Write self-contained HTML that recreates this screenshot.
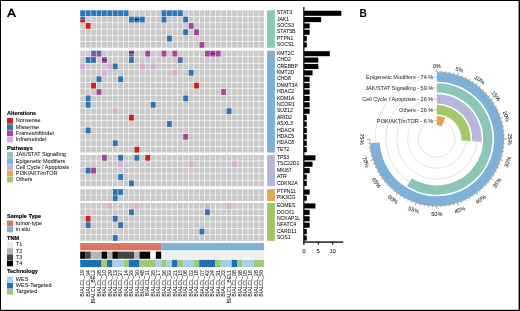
<!DOCTYPE html>
<html><head><meta charset="utf-8"><style>
html,body{margin:0;padding:0;background:#fff;}
.wrap{position:relative;width:520px;height:311px;overflow:hidden;}
svg{display:block;will-change:transform;}
</style></head><body><div class="wrap">
<svg width="520" height="311" viewBox="0 0 520 311" style="font-family:'Liberation Sans',sans-serif">
<rect x="0" y="0" width="520" height="311" fill="#fff"/>
<path d="M6.9,16.9 L10.7,8.4 L12.3,8.4 L16.1,16.9 L14.3,16.9 L13.4,14.9 L9.6,14.9 L8.7,16.9 Z M10.2,13.4 L12.8,13.4 L11.5,10.4 Z" fill="#000" fill-rule="evenodd"/>
<rect x="267.1" y="10.35" width="7.8" height="37.4" fill="#8dc7b8"/>
<rect x="267.1" y="50.75" width="7.8" height="101.75" fill="#7dafd9"/>
<rect x="267.1" y="154.9" width="7.8" height="31.35" fill="#b8b4dc"/>
<rect x="267.1" y="189.1" width="7.8" height="11.95" fill="#e5a456"/>
<rect x="267.1" y="203" width="7.8" height="37.85" fill="#9fc766"/>
<rect x="80.3" y="10.35" width="4.8" height="5.75" fill="#cacaca"/>
<rect x="85.72" y="10.35" width="4.8" height="5.75" fill="#cacaca"/>
<rect x="91.14" y="10.35" width="4.8" height="5.75" fill="#cacaca"/>
<rect x="96.56" y="10.35" width="4.8" height="5.75" fill="#cacaca"/>
<rect x="101.98" y="10.35" width="4.8" height="5.75" fill="#cacaca"/>
<rect x="107.4" y="10.35" width="4.8" height="5.75" fill="#cacaca"/>
<rect x="112.82" y="10.35" width="4.8" height="5.75" fill="#cacaca"/>
<rect x="118.24" y="10.35" width="4.8" height="5.75" fill="#cacaca"/>
<rect x="123.66" y="10.35" width="4.8" height="5.75" fill="#cacaca"/>
<rect x="129.08" y="10.35" width="4.8" height="5.75" fill="#cacaca"/>
<rect x="134.5" y="10.35" width="4.8" height="5.75" fill="#cacaca"/>
<rect x="139.92" y="10.35" width="4.8" height="5.75" fill="#cacaca"/>
<rect x="145.34" y="10.35" width="4.8" height="5.75" fill="#cacaca"/>
<rect x="150.76" y="10.35" width="4.8" height="5.75" fill="#cacaca"/>
<rect x="156.18" y="10.35" width="4.8" height="5.75" fill="#cacaca"/>
<rect x="161.6" y="10.35" width="4.8" height="5.75" fill="#cacaca"/>
<rect x="167.02" y="10.35" width="4.8" height="5.75" fill="#cacaca"/>
<rect x="172.44" y="10.35" width="4.8" height="5.75" fill="#cacaca"/>
<rect x="177.86" y="10.35" width="4.8" height="5.75" fill="#cacaca"/>
<rect x="183.28" y="10.35" width="4.8" height="5.75" fill="#cacaca"/>
<rect x="188.7" y="10.35" width="4.8" height="5.75" fill="#cacaca"/>
<rect x="194.12" y="10.35" width="4.8" height="5.75" fill="#cacaca"/>
<rect x="199.54" y="10.35" width="4.8" height="5.75" fill="#cacaca"/>
<rect x="204.96" y="10.35" width="4.8" height="5.75" fill="#cacaca"/>
<rect x="210.38" y="10.35" width="4.8" height="5.75" fill="#cacaca"/>
<rect x="215.8" y="10.35" width="4.8" height="5.75" fill="#cacaca"/>
<rect x="221.22" y="10.35" width="4.8" height="5.75" fill="#cacaca"/>
<rect x="226.64" y="10.35" width="4.8" height="5.75" fill="#cacaca"/>
<rect x="232.06" y="10.35" width="4.8" height="5.75" fill="#cacaca"/>
<rect x="237.48" y="10.35" width="4.8" height="5.75" fill="#cacaca"/>
<rect x="242.9" y="10.35" width="4.8" height="5.75" fill="#cacaca"/>
<rect x="248.32" y="10.35" width="4.8" height="5.75" fill="#cacaca"/>
<rect x="253.74" y="10.35" width="4.8" height="5.75" fill="#cacaca"/>
<rect x="259.16" y="10.35" width="4.8" height="5.75" fill="#cacaca"/>
<rect x="80.3" y="16.68" width="4.8" height="5.75" fill="#cacaca"/>
<rect x="85.72" y="16.68" width="4.8" height="5.75" fill="#cacaca"/>
<rect x="91.14" y="16.68" width="4.8" height="5.75" fill="#cacaca"/>
<rect x="96.56" y="16.68" width="4.8" height="5.75" fill="#cacaca"/>
<rect x="101.98" y="16.68" width="4.8" height="5.75" fill="#cacaca"/>
<rect x="107.4" y="16.68" width="4.8" height="5.75" fill="#cacaca"/>
<rect x="112.82" y="16.68" width="4.8" height="5.75" fill="#cacaca"/>
<rect x="118.24" y="16.68" width="4.8" height="5.75" fill="#cacaca"/>
<rect x="123.66" y="16.68" width="4.8" height="5.75" fill="#cacaca"/>
<rect x="129.08" y="16.68" width="4.8" height="5.75" fill="#cacaca"/>
<rect x="134.5" y="16.68" width="4.8" height="5.75" fill="#cacaca"/>
<rect x="139.92" y="16.68" width="4.8" height="5.75" fill="#cacaca"/>
<rect x="145.34" y="16.68" width="4.8" height="5.75" fill="#cacaca"/>
<rect x="150.76" y="16.68" width="4.8" height="5.75" fill="#cacaca"/>
<rect x="156.18" y="16.68" width="4.8" height="5.75" fill="#cacaca"/>
<rect x="161.6" y="16.68" width="4.8" height="5.75" fill="#cacaca"/>
<rect x="167.02" y="16.68" width="4.8" height="5.75" fill="#cacaca"/>
<rect x="172.44" y="16.68" width="4.8" height="5.75" fill="#cacaca"/>
<rect x="177.86" y="16.68" width="4.8" height="5.75" fill="#cacaca"/>
<rect x="183.28" y="16.68" width="4.8" height="5.75" fill="#cacaca"/>
<rect x="188.7" y="16.68" width="4.8" height="5.75" fill="#cacaca"/>
<rect x="194.12" y="16.68" width="4.8" height="5.75" fill="#cacaca"/>
<rect x="199.54" y="16.68" width="4.8" height="5.75" fill="#cacaca"/>
<rect x="204.96" y="16.68" width="4.8" height="5.75" fill="#cacaca"/>
<rect x="210.38" y="16.68" width="4.8" height="5.75" fill="#cacaca"/>
<rect x="215.8" y="16.68" width="4.8" height="5.75" fill="#cacaca"/>
<rect x="221.22" y="16.68" width="4.8" height="5.75" fill="#cacaca"/>
<rect x="226.64" y="16.68" width="4.8" height="5.75" fill="#cacaca"/>
<rect x="232.06" y="16.68" width="4.8" height="5.75" fill="#cacaca"/>
<rect x="237.48" y="16.68" width="4.8" height="5.75" fill="#cacaca"/>
<rect x="242.9" y="16.68" width="4.8" height="5.75" fill="#cacaca"/>
<rect x="248.32" y="16.68" width="4.8" height="5.75" fill="#cacaca"/>
<rect x="253.74" y="16.68" width="4.8" height="5.75" fill="#cacaca"/>
<rect x="259.16" y="16.68" width="4.8" height="5.75" fill="#cacaca"/>
<rect x="80.3" y="23.01" width="4.8" height="5.75" fill="#cacaca"/>
<rect x="85.72" y="23.01" width="4.8" height="5.75" fill="#cacaca"/>
<rect x="91.14" y="23.01" width="4.8" height="5.75" fill="#cacaca"/>
<rect x="96.56" y="23.01" width="4.8" height="5.75" fill="#cacaca"/>
<rect x="101.98" y="23.01" width="4.8" height="5.75" fill="#cacaca"/>
<rect x="107.4" y="23.01" width="4.8" height="5.75" fill="#cacaca"/>
<rect x="112.82" y="23.01" width="4.8" height="5.75" fill="#cacaca"/>
<rect x="118.24" y="23.01" width="4.8" height="5.75" fill="#cacaca"/>
<rect x="123.66" y="23.01" width="4.8" height="5.75" fill="#cacaca"/>
<rect x="129.08" y="23.01" width="4.8" height="5.75" fill="#cacaca"/>
<rect x="134.5" y="23.01" width="4.8" height="5.75" fill="#cacaca"/>
<rect x="139.92" y="23.01" width="4.8" height="5.75" fill="#cacaca"/>
<rect x="145.34" y="23.01" width="4.8" height="5.75" fill="#cacaca"/>
<rect x="150.76" y="23.01" width="4.8" height="5.75" fill="#cacaca"/>
<rect x="156.18" y="23.01" width="4.8" height="5.75" fill="#cacaca"/>
<rect x="161.6" y="23.01" width="4.8" height="5.75" fill="#cacaca"/>
<rect x="167.02" y="23.01" width="4.8" height="5.75" fill="#cacaca"/>
<rect x="172.44" y="23.01" width="4.8" height="5.75" fill="#cacaca"/>
<rect x="177.86" y="23.01" width="4.8" height="5.75" fill="#cacaca"/>
<rect x="183.28" y="23.01" width="4.8" height="5.75" fill="#cacaca"/>
<rect x="188.7" y="23.01" width="4.8" height="5.75" fill="#cacaca"/>
<rect x="194.12" y="23.01" width="4.8" height="5.75" fill="#cacaca"/>
<rect x="199.54" y="23.01" width="4.8" height="5.75" fill="#cacaca"/>
<rect x="204.96" y="23.01" width="4.8" height="5.75" fill="#cacaca"/>
<rect x="210.38" y="23.01" width="4.8" height="5.75" fill="#cacaca"/>
<rect x="215.8" y="23.01" width="4.8" height="5.75" fill="#cacaca"/>
<rect x="221.22" y="23.01" width="4.8" height="5.75" fill="#cacaca"/>
<rect x="226.64" y="23.01" width="4.8" height="5.75" fill="#cacaca"/>
<rect x="232.06" y="23.01" width="4.8" height="5.75" fill="#cacaca"/>
<rect x="237.48" y="23.01" width="4.8" height="5.75" fill="#cacaca"/>
<rect x="242.9" y="23.01" width="4.8" height="5.75" fill="#cacaca"/>
<rect x="248.32" y="23.01" width="4.8" height="5.75" fill="#cacaca"/>
<rect x="253.74" y="23.01" width="4.8" height="5.75" fill="#cacaca"/>
<rect x="259.16" y="23.01" width="4.8" height="5.75" fill="#cacaca"/>
<rect x="80.3" y="29.34" width="4.8" height="5.75" fill="#cacaca"/>
<rect x="85.72" y="29.34" width="4.8" height="5.75" fill="#cacaca"/>
<rect x="91.14" y="29.34" width="4.8" height="5.75" fill="#cacaca"/>
<rect x="96.56" y="29.34" width="4.8" height="5.75" fill="#cacaca"/>
<rect x="101.98" y="29.34" width="4.8" height="5.75" fill="#cacaca"/>
<rect x="107.4" y="29.34" width="4.8" height="5.75" fill="#cacaca"/>
<rect x="112.82" y="29.34" width="4.8" height="5.75" fill="#cacaca"/>
<rect x="118.24" y="29.34" width="4.8" height="5.75" fill="#cacaca"/>
<rect x="123.66" y="29.34" width="4.8" height="5.75" fill="#cacaca"/>
<rect x="129.08" y="29.34" width="4.8" height="5.75" fill="#cacaca"/>
<rect x="134.5" y="29.34" width="4.8" height="5.75" fill="#cacaca"/>
<rect x="139.92" y="29.34" width="4.8" height="5.75" fill="#cacaca"/>
<rect x="145.34" y="29.34" width="4.8" height="5.75" fill="#cacaca"/>
<rect x="150.76" y="29.34" width="4.8" height="5.75" fill="#cacaca"/>
<rect x="156.18" y="29.34" width="4.8" height="5.75" fill="#cacaca"/>
<rect x="161.6" y="29.34" width="4.8" height="5.75" fill="#cacaca"/>
<rect x="167.02" y="29.34" width="4.8" height="5.75" fill="#cacaca"/>
<rect x="172.44" y="29.34" width="4.8" height="5.75" fill="#cacaca"/>
<rect x="177.86" y="29.34" width="4.8" height="5.75" fill="#cacaca"/>
<rect x="183.28" y="29.34" width="4.8" height="5.75" fill="#cacaca"/>
<rect x="188.7" y="29.34" width="4.8" height="5.75" fill="#cacaca"/>
<rect x="194.12" y="29.34" width="4.8" height="5.75" fill="#cacaca"/>
<rect x="199.54" y="29.34" width="4.8" height="5.75" fill="#cacaca"/>
<rect x="204.96" y="29.34" width="4.8" height="5.75" fill="#cacaca"/>
<rect x="210.38" y="29.34" width="4.8" height="5.75" fill="#cacaca"/>
<rect x="215.8" y="29.34" width="4.8" height="5.75" fill="#cacaca"/>
<rect x="221.22" y="29.34" width="4.8" height="5.75" fill="#cacaca"/>
<rect x="226.64" y="29.34" width="4.8" height="5.75" fill="#cacaca"/>
<rect x="232.06" y="29.34" width="4.8" height="5.75" fill="#cacaca"/>
<rect x="237.48" y="29.34" width="4.8" height="5.75" fill="#cacaca"/>
<rect x="242.9" y="29.34" width="4.8" height="5.75" fill="#cacaca"/>
<rect x="248.32" y="29.34" width="4.8" height="5.75" fill="#cacaca"/>
<rect x="253.74" y="29.34" width="4.8" height="5.75" fill="#cacaca"/>
<rect x="259.16" y="29.34" width="4.8" height="5.75" fill="#cacaca"/>
<rect x="80.3" y="35.67" width="4.8" height="5.75" fill="#cacaca"/>
<rect x="85.72" y="35.67" width="4.8" height="5.75" fill="#cacaca"/>
<rect x="91.14" y="35.67" width="4.8" height="5.75" fill="#cacaca"/>
<rect x="96.56" y="35.67" width="4.8" height="5.75" fill="#cacaca"/>
<rect x="101.98" y="35.67" width="4.8" height="5.75" fill="#cacaca"/>
<rect x="107.4" y="35.67" width="4.8" height="5.75" fill="#cacaca"/>
<rect x="112.82" y="35.67" width="4.8" height="5.75" fill="#cacaca"/>
<rect x="118.24" y="35.67" width="4.8" height="5.75" fill="#cacaca"/>
<rect x="123.66" y="35.67" width="4.8" height="5.75" fill="#cacaca"/>
<rect x="129.08" y="35.67" width="4.8" height="5.75" fill="#cacaca"/>
<rect x="134.5" y="35.67" width="4.8" height="5.75" fill="#cacaca"/>
<rect x="139.92" y="35.67" width="4.8" height="5.75" fill="#cacaca"/>
<rect x="145.34" y="35.67" width="4.8" height="5.75" fill="#cacaca"/>
<rect x="150.76" y="35.67" width="4.8" height="5.75" fill="#cacaca"/>
<rect x="156.18" y="35.67" width="4.8" height="5.75" fill="#cacaca"/>
<rect x="161.6" y="35.67" width="4.8" height="5.75" fill="#cacaca"/>
<rect x="167.02" y="35.67" width="4.8" height="5.75" fill="#cacaca"/>
<rect x="172.44" y="35.67" width="4.8" height="5.75" fill="#cacaca"/>
<rect x="177.86" y="35.67" width="4.8" height="5.75" fill="#cacaca"/>
<rect x="183.28" y="35.67" width="4.8" height="5.75" fill="#cacaca"/>
<rect x="188.7" y="35.67" width="4.8" height="5.75" fill="#cacaca"/>
<rect x="194.12" y="35.67" width="4.8" height="5.75" fill="#cacaca"/>
<rect x="199.54" y="35.67" width="4.8" height="5.75" fill="#cacaca"/>
<rect x="204.96" y="35.67" width="4.8" height="5.75" fill="#cacaca"/>
<rect x="210.38" y="35.67" width="4.8" height="5.75" fill="#cacaca"/>
<rect x="215.8" y="35.67" width="4.8" height="5.75" fill="#cacaca"/>
<rect x="221.22" y="35.67" width="4.8" height="5.75" fill="#cacaca"/>
<rect x="226.64" y="35.67" width="4.8" height="5.75" fill="#cacaca"/>
<rect x="232.06" y="35.67" width="4.8" height="5.75" fill="#cacaca"/>
<rect x="237.48" y="35.67" width="4.8" height="5.75" fill="#cacaca"/>
<rect x="242.9" y="35.67" width="4.8" height="5.75" fill="#cacaca"/>
<rect x="248.32" y="35.67" width="4.8" height="5.75" fill="#cacaca"/>
<rect x="253.74" y="35.67" width="4.8" height="5.75" fill="#cacaca"/>
<rect x="259.16" y="35.67" width="4.8" height="5.75" fill="#cacaca"/>
<rect x="80.3" y="42" width="4.8" height="5.75" fill="#cacaca"/>
<rect x="85.72" y="42" width="4.8" height="5.75" fill="#cacaca"/>
<rect x="91.14" y="42" width="4.8" height="5.75" fill="#cacaca"/>
<rect x="96.56" y="42" width="4.8" height="5.75" fill="#cacaca"/>
<rect x="101.98" y="42" width="4.8" height="5.75" fill="#cacaca"/>
<rect x="107.4" y="42" width="4.8" height="5.75" fill="#cacaca"/>
<rect x="112.82" y="42" width="4.8" height="5.75" fill="#cacaca"/>
<rect x="118.24" y="42" width="4.8" height="5.75" fill="#cacaca"/>
<rect x="123.66" y="42" width="4.8" height="5.75" fill="#cacaca"/>
<rect x="129.08" y="42" width="4.8" height="5.75" fill="#cacaca"/>
<rect x="134.5" y="42" width="4.8" height="5.75" fill="#cacaca"/>
<rect x="139.92" y="42" width="4.8" height="5.75" fill="#cacaca"/>
<rect x="145.34" y="42" width="4.8" height="5.75" fill="#cacaca"/>
<rect x="150.76" y="42" width="4.8" height="5.75" fill="#cacaca"/>
<rect x="156.18" y="42" width="4.8" height="5.75" fill="#cacaca"/>
<rect x="161.6" y="42" width="4.8" height="5.75" fill="#cacaca"/>
<rect x="167.02" y="42" width="4.8" height="5.75" fill="#cacaca"/>
<rect x="172.44" y="42" width="4.8" height="5.75" fill="#cacaca"/>
<rect x="177.86" y="42" width="4.8" height="5.75" fill="#cacaca"/>
<rect x="183.28" y="42" width="4.8" height="5.75" fill="#cacaca"/>
<rect x="188.7" y="42" width="4.8" height="5.75" fill="#cacaca"/>
<rect x="194.12" y="42" width="4.8" height="5.75" fill="#cacaca"/>
<rect x="199.54" y="42" width="4.8" height="5.75" fill="#cacaca"/>
<rect x="204.96" y="42" width="4.8" height="5.75" fill="#cacaca"/>
<rect x="210.38" y="42" width="4.8" height="5.75" fill="#cacaca"/>
<rect x="215.8" y="42" width="4.8" height="5.75" fill="#cacaca"/>
<rect x="221.22" y="42" width="4.8" height="5.75" fill="#cacaca"/>
<rect x="226.64" y="42" width="4.8" height="5.75" fill="#cacaca"/>
<rect x="232.06" y="42" width="4.8" height="5.75" fill="#cacaca"/>
<rect x="237.48" y="42" width="4.8" height="5.75" fill="#cacaca"/>
<rect x="242.9" y="42" width="4.8" height="5.75" fill="#cacaca"/>
<rect x="248.32" y="42" width="4.8" height="5.75" fill="#cacaca"/>
<rect x="253.74" y="42" width="4.8" height="5.75" fill="#cacaca"/>
<rect x="259.16" y="42" width="4.8" height="5.75" fill="#cacaca"/>
<rect x="80.3" y="50.75" width="4.8" height="5.75" fill="#cacaca"/>
<rect x="85.72" y="50.75" width="4.8" height="5.75" fill="#cacaca"/>
<rect x="91.14" y="50.75" width="4.8" height="5.75" fill="#cacaca"/>
<rect x="96.56" y="50.75" width="4.8" height="5.75" fill="#cacaca"/>
<rect x="101.98" y="50.75" width="4.8" height="5.75" fill="#cacaca"/>
<rect x="107.4" y="50.75" width="4.8" height="5.75" fill="#cacaca"/>
<rect x="112.82" y="50.75" width="4.8" height="5.75" fill="#cacaca"/>
<rect x="118.24" y="50.75" width="4.8" height="5.75" fill="#cacaca"/>
<rect x="123.66" y="50.75" width="4.8" height="5.75" fill="#cacaca"/>
<rect x="129.08" y="50.75" width="4.8" height="5.75" fill="#cacaca"/>
<rect x="134.5" y="50.75" width="4.8" height="5.75" fill="#cacaca"/>
<rect x="139.92" y="50.75" width="4.8" height="5.75" fill="#cacaca"/>
<rect x="145.34" y="50.75" width="4.8" height="5.75" fill="#cacaca"/>
<rect x="150.76" y="50.75" width="4.8" height="5.75" fill="#cacaca"/>
<rect x="156.18" y="50.75" width="4.8" height="5.75" fill="#cacaca"/>
<rect x="161.6" y="50.75" width="4.8" height="5.75" fill="#cacaca"/>
<rect x="167.02" y="50.75" width="4.8" height="5.75" fill="#cacaca"/>
<rect x="172.44" y="50.75" width="4.8" height="5.75" fill="#cacaca"/>
<rect x="177.86" y="50.75" width="4.8" height="5.75" fill="#cacaca"/>
<rect x="183.28" y="50.75" width="4.8" height="5.75" fill="#cacaca"/>
<rect x="188.7" y="50.75" width="4.8" height="5.75" fill="#cacaca"/>
<rect x="194.12" y="50.75" width="4.8" height="5.75" fill="#cacaca"/>
<rect x="199.54" y="50.75" width="4.8" height="5.75" fill="#cacaca"/>
<rect x="204.96" y="50.75" width="4.8" height="5.75" fill="#cacaca"/>
<rect x="210.38" y="50.75" width="4.8" height="5.75" fill="#cacaca"/>
<rect x="215.8" y="50.75" width="4.8" height="5.75" fill="#cacaca"/>
<rect x="221.22" y="50.75" width="4.8" height="5.75" fill="#cacaca"/>
<rect x="226.64" y="50.75" width="4.8" height="5.75" fill="#cacaca"/>
<rect x="232.06" y="50.75" width="4.8" height="5.75" fill="#cacaca"/>
<rect x="237.48" y="50.75" width="4.8" height="5.75" fill="#cacaca"/>
<rect x="242.9" y="50.75" width="4.8" height="5.75" fill="#cacaca"/>
<rect x="248.32" y="50.75" width="4.8" height="5.75" fill="#cacaca"/>
<rect x="253.74" y="50.75" width="4.8" height="5.75" fill="#cacaca"/>
<rect x="259.16" y="50.75" width="4.8" height="5.75" fill="#cacaca"/>
<rect x="80.3" y="57.15" width="4.8" height="5.75" fill="#cacaca"/>
<rect x="85.72" y="57.15" width="4.8" height="5.75" fill="#cacaca"/>
<rect x="91.14" y="57.15" width="4.8" height="5.75" fill="#cacaca"/>
<rect x="96.56" y="57.15" width="4.8" height="5.75" fill="#cacaca"/>
<rect x="101.98" y="57.15" width="4.8" height="5.75" fill="#cacaca"/>
<rect x="107.4" y="57.15" width="4.8" height="5.75" fill="#cacaca"/>
<rect x="112.82" y="57.15" width="4.8" height="5.75" fill="#cacaca"/>
<rect x="118.24" y="57.15" width="4.8" height="5.75" fill="#cacaca"/>
<rect x="123.66" y="57.15" width="4.8" height="5.75" fill="#cacaca"/>
<rect x="129.08" y="57.15" width="4.8" height="5.75" fill="#cacaca"/>
<rect x="134.5" y="57.15" width="4.8" height="5.75" fill="#cacaca"/>
<rect x="139.92" y="57.15" width="4.8" height="5.75" fill="#cacaca"/>
<rect x="145.34" y="57.15" width="4.8" height="5.75" fill="#cacaca"/>
<rect x="150.76" y="57.15" width="4.8" height="5.75" fill="#cacaca"/>
<rect x="156.18" y="57.15" width="4.8" height="5.75" fill="#cacaca"/>
<rect x="161.6" y="57.15" width="4.8" height="5.75" fill="#cacaca"/>
<rect x="167.02" y="57.15" width="4.8" height="5.75" fill="#cacaca"/>
<rect x="172.44" y="57.15" width="4.8" height="5.75" fill="#cacaca"/>
<rect x="177.86" y="57.15" width="4.8" height="5.75" fill="#cacaca"/>
<rect x="183.28" y="57.15" width="4.8" height="5.75" fill="#cacaca"/>
<rect x="188.7" y="57.15" width="4.8" height="5.75" fill="#cacaca"/>
<rect x="194.12" y="57.15" width="4.8" height="5.75" fill="#cacaca"/>
<rect x="199.54" y="57.15" width="4.8" height="5.75" fill="#cacaca"/>
<rect x="204.96" y="57.15" width="4.8" height="5.75" fill="#cacaca"/>
<rect x="210.38" y="57.15" width="4.8" height="5.75" fill="#cacaca"/>
<rect x="215.8" y="57.15" width="4.8" height="5.75" fill="#cacaca"/>
<rect x="221.22" y="57.15" width="4.8" height="5.75" fill="#cacaca"/>
<rect x="226.64" y="57.15" width="4.8" height="5.75" fill="#cacaca"/>
<rect x="232.06" y="57.15" width="4.8" height="5.75" fill="#cacaca"/>
<rect x="237.48" y="57.15" width="4.8" height="5.75" fill="#cacaca"/>
<rect x="242.9" y="57.15" width="4.8" height="5.75" fill="#cacaca"/>
<rect x="248.32" y="57.15" width="4.8" height="5.75" fill="#cacaca"/>
<rect x="253.74" y="57.15" width="4.8" height="5.75" fill="#cacaca"/>
<rect x="259.16" y="57.15" width="4.8" height="5.75" fill="#cacaca"/>
<rect x="80.3" y="63.55" width="4.8" height="5.75" fill="#cacaca"/>
<rect x="85.72" y="63.55" width="4.8" height="5.75" fill="#cacaca"/>
<rect x="91.14" y="63.55" width="4.8" height="5.75" fill="#cacaca"/>
<rect x="96.56" y="63.55" width="4.8" height="5.75" fill="#cacaca"/>
<rect x="101.98" y="63.55" width="4.8" height="5.75" fill="#cacaca"/>
<rect x="107.4" y="63.55" width="4.8" height="5.75" fill="#cacaca"/>
<rect x="112.82" y="63.55" width="4.8" height="5.75" fill="#cacaca"/>
<rect x="118.24" y="63.55" width="4.8" height="5.75" fill="#cacaca"/>
<rect x="123.66" y="63.55" width="4.8" height="5.75" fill="#cacaca"/>
<rect x="129.08" y="63.55" width="4.8" height="5.75" fill="#cacaca"/>
<rect x="134.5" y="63.55" width="4.8" height="5.75" fill="#cacaca"/>
<rect x="139.92" y="63.55" width="4.8" height="5.75" fill="#cacaca"/>
<rect x="145.34" y="63.55" width="4.8" height="5.75" fill="#cacaca"/>
<rect x="150.76" y="63.55" width="4.8" height="5.75" fill="#cacaca"/>
<rect x="156.18" y="63.55" width="4.8" height="5.75" fill="#cacaca"/>
<rect x="161.6" y="63.55" width="4.8" height="5.75" fill="#cacaca"/>
<rect x="167.02" y="63.55" width="4.8" height="5.75" fill="#cacaca"/>
<rect x="172.44" y="63.55" width="4.8" height="5.75" fill="#cacaca"/>
<rect x="177.86" y="63.55" width="4.8" height="5.75" fill="#cacaca"/>
<rect x="183.28" y="63.55" width="4.8" height="5.75" fill="#cacaca"/>
<rect x="188.7" y="63.55" width="4.8" height="5.75" fill="#cacaca"/>
<rect x="194.12" y="63.55" width="4.8" height="5.75" fill="#cacaca"/>
<rect x="199.54" y="63.55" width="4.8" height="5.75" fill="#cacaca"/>
<rect x="204.96" y="63.55" width="4.8" height="5.75" fill="#cacaca"/>
<rect x="210.38" y="63.55" width="4.8" height="5.75" fill="#cacaca"/>
<rect x="215.8" y="63.55" width="4.8" height="5.75" fill="#cacaca"/>
<rect x="221.22" y="63.55" width="4.8" height="5.75" fill="#cacaca"/>
<rect x="226.64" y="63.55" width="4.8" height="5.75" fill="#cacaca"/>
<rect x="232.06" y="63.55" width="4.8" height="5.75" fill="#cacaca"/>
<rect x="237.48" y="63.55" width="4.8" height="5.75" fill="#cacaca"/>
<rect x="242.9" y="63.55" width="4.8" height="5.75" fill="#cacaca"/>
<rect x="248.32" y="63.55" width="4.8" height="5.75" fill="#cacaca"/>
<rect x="253.74" y="63.55" width="4.8" height="5.75" fill="#cacaca"/>
<rect x="259.16" y="63.55" width="4.8" height="5.75" fill="#cacaca"/>
<rect x="80.3" y="69.95" width="4.8" height="5.75" fill="#cacaca"/>
<rect x="85.72" y="69.95" width="4.8" height="5.75" fill="#cacaca"/>
<rect x="91.14" y="69.95" width="4.8" height="5.75" fill="#cacaca"/>
<rect x="96.56" y="69.95" width="4.8" height="5.75" fill="#cacaca"/>
<rect x="101.98" y="69.95" width="4.8" height="5.75" fill="#cacaca"/>
<rect x="107.4" y="69.95" width="4.8" height="5.75" fill="#cacaca"/>
<rect x="112.82" y="69.95" width="4.8" height="5.75" fill="#cacaca"/>
<rect x="118.24" y="69.95" width="4.8" height="5.75" fill="#cacaca"/>
<rect x="123.66" y="69.95" width="4.8" height="5.75" fill="#cacaca"/>
<rect x="129.08" y="69.95" width="4.8" height="5.75" fill="#cacaca"/>
<rect x="134.5" y="69.95" width="4.8" height="5.75" fill="#cacaca"/>
<rect x="139.92" y="69.95" width="4.8" height="5.75" fill="#cacaca"/>
<rect x="145.34" y="69.95" width="4.8" height="5.75" fill="#cacaca"/>
<rect x="150.76" y="69.95" width="4.8" height="5.75" fill="#cacaca"/>
<rect x="156.18" y="69.95" width="4.8" height="5.75" fill="#cacaca"/>
<rect x="161.6" y="69.95" width="4.8" height="5.75" fill="#cacaca"/>
<rect x="167.02" y="69.95" width="4.8" height="5.75" fill="#cacaca"/>
<rect x="172.44" y="69.95" width="4.8" height="5.75" fill="#cacaca"/>
<rect x="177.86" y="69.95" width="4.8" height="5.75" fill="#cacaca"/>
<rect x="183.28" y="69.95" width="4.8" height="5.75" fill="#cacaca"/>
<rect x="188.7" y="69.95" width="4.8" height="5.75" fill="#cacaca"/>
<rect x="194.12" y="69.95" width="4.8" height="5.75" fill="#cacaca"/>
<rect x="199.54" y="69.95" width="4.8" height="5.75" fill="#cacaca"/>
<rect x="204.96" y="69.95" width="4.8" height="5.75" fill="#cacaca"/>
<rect x="210.38" y="69.95" width="4.8" height="5.75" fill="#cacaca"/>
<rect x="215.8" y="69.95" width="4.8" height="5.75" fill="#cacaca"/>
<rect x="221.22" y="69.95" width="4.8" height="5.75" fill="#cacaca"/>
<rect x="226.64" y="69.95" width="4.8" height="5.75" fill="#cacaca"/>
<rect x="232.06" y="69.95" width="4.8" height="5.75" fill="#cacaca"/>
<rect x="237.48" y="69.95" width="4.8" height="5.75" fill="#cacaca"/>
<rect x="242.9" y="69.95" width="4.8" height="5.75" fill="#cacaca"/>
<rect x="248.32" y="69.95" width="4.8" height="5.75" fill="#cacaca"/>
<rect x="253.74" y="69.95" width="4.8" height="5.75" fill="#cacaca"/>
<rect x="259.16" y="69.95" width="4.8" height="5.75" fill="#cacaca"/>
<rect x="80.3" y="76.35" width="4.8" height="5.75" fill="#cacaca"/>
<rect x="85.72" y="76.35" width="4.8" height="5.75" fill="#cacaca"/>
<rect x="91.14" y="76.35" width="4.8" height="5.75" fill="#cacaca"/>
<rect x="96.56" y="76.35" width="4.8" height="5.75" fill="#cacaca"/>
<rect x="101.98" y="76.35" width="4.8" height="5.75" fill="#cacaca"/>
<rect x="107.4" y="76.35" width="4.8" height="5.75" fill="#cacaca"/>
<rect x="112.82" y="76.35" width="4.8" height="5.75" fill="#cacaca"/>
<rect x="118.24" y="76.35" width="4.8" height="5.75" fill="#cacaca"/>
<rect x="123.66" y="76.35" width="4.8" height="5.75" fill="#cacaca"/>
<rect x="129.08" y="76.35" width="4.8" height="5.75" fill="#cacaca"/>
<rect x="134.5" y="76.35" width="4.8" height="5.75" fill="#cacaca"/>
<rect x="139.92" y="76.35" width="4.8" height="5.75" fill="#cacaca"/>
<rect x="145.34" y="76.35" width="4.8" height="5.75" fill="#cacaca"/>
<rect x="150.76" y="76.35" width="4.8" height="5.75" fill="#cacaca"/>
<rect x="156.18" y="76.35" width="4.8" height="5.75" fill="#cacaca"/>
<rect x="161.6" y="76.35" width="4.8" height="5.75" fill="#cacaca"/>
<rect x="167.02" y="76.35" width="4.8" height="5.75" fill="#cacaca"/>
<rect x="172.44" y="76.35" width="4.8" height="5.75" fill="#cacaca"/>
<rect x="177.86" y="76.35" width="4.8" height="5.75" fill="#cacaca"/>
<rect x="183.28" y="76.35" width="4.8" height="5.75" fill="#cacaca"/>
<rect x="188.7" y="76.35" width="4.8" height="5.75" fill="#cacaca"/>
<rect x="194.12" y="76.35" width="4.8" height="5.75" fill="#cacaca"/>
<rect x="199.54" y="76.35" width="4.8" height="5.75" fill="#cacaca"/>
<rect x="204.96" y="76.35" width="4.8" height="5.75" fill="#cacaca"/>
<rect x="210.38" y="76.35" width="4.8" height="5.75" fill="#cacaca"/>
<rect x="215.8" y="76.35" width="4.8" height="5.75" fill="#cacaca"/>
<rect x="221.22" y="76.35" width="4.8" height="5.75" fill="#cacaca"/>
<rect x="226.64" y="76.35" width="4.8" height="5.75" fill="#cacaca"/>
<rect x="232.06" y="76.35" width="4.8" height="5.75" fill="#cacaca"/>
<rect x="237.48" y="76.35" width="4.8" height="5.75" fill="#cacaca"/>
<rect x="242.9" y="76.35" width="4.8" height="5.75" fill="#cacaca"/>
<rect x="248.32" y="76.35" width="4.8" height="5.75" fill="#cacaca"/>
<rect x="253.74" y="76.35" width="4.8" height="5.75" fill="#cacaca"/>
<rect x="259.16" y="76.35" width="4.8" height="5.75" fill="#cacaca"/>
<rect x="80.3" y="82.75" width="4.8" height="5.75" fill="#cacaca"/>
<rect x="85.72" y="82.75" width="4.8" height="5.75" fill="#cacaca"/>
<rect x="91.14" y="82.75" width="4.8" height="5.75" fill="#cacaca"/>
<rect x="96.56" y="82.75" width="4.8" height="5.75" fill="#cacaca"/>
<rect x="101.98" y="82.75" width="4.8" height="5.75" fill="#cacaca"/>
<rect x="107.4" y="82.75" width="4.8" height="5.75" fill="#cacaca"/>
<rect x="112.82" y="82.75" width="4.8" height="5.75" fill="#cacaca"/>
<rect x="118.24" y="82.75" width="4.8" height="5.75" fill="#cacaca"/>
<rect x="123.66" y="82.75" width="4.8" height="5.75" fill="#cacaca"/>
<rect x="129.08" y="82.75" width="4.8" height="5.75" fill="#cacaca"/>
<rect x="134.5" y="82.75" width="4.8" height="5.75" fill="#cacaca"/>
<rect x="139.92" y="82.75" width="4.8" height="5.75" fill="#cacaca"/>
<rect x="145.34" y="82.75" width="4.8" height="5.75" fill="#cacaca"/>
<rect x="150.76" y="82.75" width="4.8" height="5.75" fill="#cacaca"/>
<rect x="156.18" y="82.75" width="4.8" height="5.75" fill="#cacaca"/>
<rect x="161.6" y="82.75" width="4.8" height="5.75" fill="#cacaca"/>
<rect x="167.02" y="82.75" width="4.8" height="5.75" fill="#cacaca"/>
<rect x="172.44" y="82.75" width="4.8" height="5.75" fill="#cacaca"/>
<rect x="177.86" y="82.75" width="4.8" height="5.75" fill="#cacaca"/>
<rect x="183.28" y="82.75" width="4.8" height="5.75" fill="#cacaca"/>
<rect x="188.7" y="82.75" width="4.8" height="5.75" fill="#cacaca"/>
<rect x="194.12" y="82.75" width="4.8" height="5.75" fill="#cacaca"/>
<rect x="199.54" y="82.75" width="4.8" height="5.75" fill="#cacaca"/>
<rect x="204.96" y="82.75" width="4.8" height="5.75" fill="#cacaca"/>
<rect x="210.38" y="82.75" width="4.8" height="5.75" fill="#cacaca"/>
<rect x="215.8" y="82.75" width="4.8" height="5.75" fill="#cacaca"/>
<rect x="221.22" y="82.75" width="4.8" height="5.75" fill="#cacaca"/>
<rect x="226.64" y="82.75" width="4.8" height="5.75" fill="#cacaca"/>
<rect x="232.06" y="82.75" width="4.8" height="5.75" fill="#cacaca"/>
<rect x="237.48" y="82.75" width="4.8" height="5.75" fill="#cacaca"/>
<rect x="242.9" y="82.75" width="4.8" height="5.75" fill="#cacaca"/>
<rect x="248.32" y="82.75" width="4.8" height="5.75" fill="#cacaca"/>
<rect x="253.74" y="82.75" width="4.8" height="5.75" fill="#cacaca"/>
<rect x="259.16" y="82.75" width="4.8" height="5.75" fill="#cacaca"/>
<rect x="80.3" y="89.15" width="4.8" height="5.75" fill="#cacaca"/>
<rect x="85.72" y="89.15" width="4.8" height="5.75" fill="#cacaca"/>
<rect x="91.14" y="89.15" width="4.8" height="5.75" fill="#cacaca"/>
<rect x="96.56" y="89.15" width="4.8" height="5.75" fill="#cacaca"/>
<rect x="101.98" y="89.15" width="4.8" height="5.75" fill="#cacaca"/>
<rect x="107.4" y="89.15" width="4.8" height="5.75" fill="#cacaca"/>
<rect x="112.82" y="89.15" width="4.8" height="5.75" fill="#cacaca"/>
<rect x="118.24" y="89.15" width="4.8" height="5.75" fill="#cacaca"/>
<rect x="123.66" y="89.15" width="4.8" height="5.75" fill="#cacaca"/>
<rect x="129.08" y="89.15" width="4.8" height="5.75" fill="#cacaca"/>
<rect x="134.5" y="89.15" width="4.8" height="5.75" fill="#cacaca"/>
<rect x="139.92" y="89.15" width="4.8" height="5.75" fill="#cacaca"/>
<rect x="145.34" y="89.15" width="4.8" height="5.75" fill="#cacaca"/>
<rect x="150.76" y="89.15" width="4.8" height="5.75" fill="#cacaca"/>
<rect x="156.18" y="89.15" width="4.8" height="5.75" fill="#cacaca"/>
<rect x="161.6" y="89.15" width="4.8" height="5.75" fill="#cacaca"/>
<rect x="167.02" y="89.15" width="4.8" height="5.75" fill="#cacaca"/>
<rect x="172.44" y="89.15" width="4.8" height="5.75" fill="#cacaca"/>
<rect x="177.86" y="89.15" width="4.8" height="5.75" fill="#cacaca"/>
<rect x="183.28" y="89.15" width="4.8" height="5.75" fill="#cacaca"/>
<rect x="188.7" y="89.15" width="4.8" height="5.75" fill="#cacaca"/>
<rect x="194.12" y="89.15" width="4.8" height="5.75" fill="#cacaca"/>
<rect x="199.54" y="89.15" width="4.8" height="5.75" fill="#cacaca"/>
<rect x="204.96" y="89.15" width="4.8" height="5.75" fill="#cacaca"/>
<rect x="210.38" y="89.15" width="4.8" height="5.75" fill="#cacaca"/>
<rect x="215.8" y="89.15" width="4.8" height="5.75" fill="#cacaca"/>
<rect x="221.22" y="89.15" width="4.8" height="5.75" fill="#cacaca"/>
<rect x="226.64" y="89.15" width="4.8" height="5.75" fill="#cacaca"/>
<rect x="232.06" y="89.15" width="4.8" height="5.75" fill="#cacaca"/>
<rect x="237.48" y="89.15" width="4.8" height="5.75" fill="#cacaca"/>
<rect x="242.9" y="89.15" width="4.8" height="5.75" fill="#cacaca"/>
<rect x="248.32" y="89.15" width="4.8" height="5.75" fill="#cacaca"/>
<rect x="253.74" y="89.15" width="4.8" height="5.75" fill="#cacaca"/>
<rect x="259.16" y="89.15" width="4.8" height="5.75" fill="#cacaca"/>
<rect x="80.3" y="95.55" width="4.8" height="5.75" fill="#cacaca"/>
<rect x="85.72" y="95.55" width="4.8" height="5.75" fill="#cacaca"/>
<rect x="91.14" y="95.55" width="4.8" height="5.75" fill="#cacaca"/>
<rect x="96.56" y="95.55" width="4.8" height="5.75" fill="#cacaca"/>
<rect x="101.98" y="95.55" width="4.8" height="5.75" fill="#cacaca"/>
<rect x="107.4" y="95.55" width="4.8" height="5.75" fill="#cacaca"/>
<rect x="112.82" y="95.55" width="4.8" height="5.75" fill="#cacaca"/>
<rect x="118.24" y="95.55" width="4.8" height="5.75" fill="#cacaca"/>
<rect x="123.66" y="95.55" width="4.8" height="5.75" fill="#cacaca"/>
<rect x="129.08" y="95.55" width="4.8" height="5.75" fill="#cacaca"/>
<rect x="134.5" y="95.55" width="4.8" height="5.75" fill="#cacaca"/>
<rect x="139.92" y="95.55" width="4.8" height="5.75" fill="#cacaca"/>
<rect x="145.34" y="95.55" width="4.8" height="5.75" fill="#cacaca"/>
<rect x="150.76" y="95.55" width="4.8" height="5.75" fill="#cacaca"/>
<rect x="156.18" y="95.55" width="4.8" height="5.75" fill="#cacaca"/>
<rect x="161.6" y="95.55" width="4.8" height="5.75" fill="#cacaca"/>
<rect x="167.02" y="95.55" width="4.8" height="5.75" fill="#cacaca"/>
<rect x="172.44" y="95.55" width="4.8" height="5.75" fill="#cacaca"/>
<rect x="177.86" y="95.55" width="4.8" height="5.75" fill="#cacaca"/>
<rect x="183.28" y="95.55" width="4.8" height="5.75" fill="#cacaca"/>
<rect x="188.7" y="95.55" width="4.8" height="5.75" fill="#cacaca"/>
<rect x="194.12" y="95.55" width="4.8" height="5.75" fill="#cacaca"/>
<rect x="199.54" y="95.55" width="4.8" height="5.75" fill="#cacaca"/>
<rect x="204.96" y="95.55" width="4.8" height="5.75" fill="#cacaca"/>
<rect x="210.38" y="95.55" width="4.8" height="5.75" fill="#cacaca"/>
<rect x="215.8" y="95.55" width="4.8" height="5.75" fill="#cacaca"/>
<rect x="221.22" y="95.55" width="4.8" height="5.75" fill="#cacaca"/>
<rect x="226.64" y="95.55" width="4.8" height="5.75" fill="#cacaca"/>
<rect x="232.06" y="95.55" width="4.8" height="5.75" fill="#cacaca"/>
<rect x="237.48" y="95.55" width="4.8" height="5.75" fill="#cacaca"/>
<rect x="242.9" y="95.55" width="4.8" height="5.75" fill="#cacaca"/>
<rect x="248.32" y="95.55" width="4.8" height="5.75" fill="#cacaca"/>
<rect x="253.74" y="95.55" width="4.8" height="5.75" fill="#cacaca"/>
<rect x="259.16" y="95.55" width="4.8" height="5.75" fill="#cacaca"/>
<rect x="80.3" y="101.95" width="4.8" height="5.75" fill="#cacaca"/>
<rect x="85.72" y="101.95" width="4.8" height="5.75" fill="#cacaca"/>
<rect x="91.14" y="101.95" width="4.8" height="5.75" fill="#cacaca"/>
<rect x="96.56" y="101.95" width="4.8" height="5.75" fill="#cacaca"/>
<rect x="101.98" y="101.95" width="4.8" height="5.75" fill="#cacaca"/>
<rect x="107.4" y="101.95" width="4.8" height="5.75" fill="#cacaca"/>
<rect x="112.82" y="101.95" width="4.8" height="5.75" fill="#cacaca"/>
<rect x="118.24" y="101.95" width="4.8" height="5.75" fill="#cacaca"/>
<rect x="123.66" y="101.95" width="4.8" height="5.75" fill="#cacaca"/>
<rect x="129.08" y="101.95" width="4.8" height="5.75" fill="#cacaca"/>
<rect x="134.5" y="101.95" width="4.8" height="5.75" fill="#cacaca"/>
<rect x="139.92" y="101.95" width="4.8" height="5.75" fill="#cacaca"/>
<rect x="145.34" y="101.95" width="4.8" height="5.75" fill="#cacaca"/>
<rect x="150.76" y="101.95" width="4.8" height="5.75" fill="#cacaca"/>
<rect x="156.18" y="101.95" width="4.8" height="5.75" fill="#cacaca"/>
<rect x="161.6" y="101.95" width="4.8" height="5.75" fill="#cacaca"/>
<rect x="167.02" y="101.95" width="4.8" height="5.75" fill="#cacaca"/>
<rect x="172.44" y="101.95" width="4.8" height="5.75" fill="#cacaca"/>
<rect x="177.86" y="101.95" width="4.8" height="5.75" fill="#cacaca"/>
<rect x="183.28" y="101.95" width="4.8" height="5.75" fill="#cacaca"/>
<rect x="188.7" y="101.95" width="4.8" height="5.75" fill="#cacaca"/>
<rect x="194.12" y="101.95" width="4.8" height="5.75" fill="#cacaca"/>
<rect x="199.54" y="101.95" width="4.8" height="5.75" fill="#cacaca"/>
<rect x="204.96" y="101.95" width="4.8" height="5.75" fill="#cacaca"/>
<rect x="210.38" y="101.95" width="4.8" height="5.75" fill="#cacaca"/>
<rect x="215.8" y="101.95" width="4.8" height="5.75" fill="#cacaca"/>
<rect x="221.22" y="101.95" width="4.8" height="5.75" fill="#cacaca"/>
<rect x="226.64" y="101.95" width="4.8" height="5.75" fill="#cacaca"/>
<rect x="232.06" y="101.95" width="4.8" height="5.75" fill="#cacaca"/>
<rect x="237.48" y="101.95" width="4.8" height="5.75" fill="#cacaca"/>
<rect x="242.9" y="101.95" width="4.8" height="5.75" fill="#cacaca"/>
<rect x="248.32" y="101.95" width="4.8" height="5.75" fill="#cacaca"/>
<rect x="253.74" y="101.95" width="4.8" height="5.75" fill="#cacaca"/>
<rect x="259.16" y="101.95" width="4.8" height="5.75" fill="#cacaca"/>
<rect x="80.3" y="108.35" width="4.8" height="5.75" fill="#cacaca"/>
<rect x="85.72" y="108.35" width="4.8" height="5.75" fill="#cacaca"/>
<rect x="91.14" y="108.35" width="4.8" height="5.75" fill="#cacaca"/>
<rect x="96.56" y="108.35" width="4.8" height="5.75" fill="#cacaca"/>
<rect x="101.98" y="108.35" width="4.8" height="5.75" fill="#cacaca"/>
<rect x="107.4" y="108.35" width="4.8" height="5.75" fill="#cacaca"/>
<rect x="112.82" y="108.35" width="4.8" height="5.75" fill="#cacaca"/>
<rect x="118.24" y="108.35" width="4.8" height="5.75" fill="#cacaca"/>
<rect x="123.66" y="108.35" width="4.8" height="5.75" fill="#cacaca"/>
<rect x="129.08" y="108.35" width="4.8" height="5.75" fill="#cacaca"/>
<rect x="134.5" y="108.35" width="4.8" height="5.75" fill="#cacaca"/>
<rect x="139.92" y="108.35" width="4.8" height="5.75" fill="#cacaca"/>
<rect x="145.34" y="108.35" width="4.8" height="5.75" fill="#cacaca"/>
<rect x="150.76" y="108.35" width="4.8" height="5.75" fill="#cacaca"/>
<rect x="156.18" y="108.35" width="4.8" height="5.75" fill="#cacaca"/>
<rect x="161.6" y="108.35" width="4.8" height="5.75" fill="#cacaca"/>
<rect x="167.02" y="108.35" width="4.8" height="5.75" fill="#cacaca"/>
<rect x="172.44" y="108.35" width="4.8" height="5.75" fill="#cacaca"/>
<rect x="177.86" y="108.35" width="4.8" height="5.75" fill="#cacaca"/>
<rect x="183.28" y="108.35" width="4.8" height="5.75" fill="#cacaca"/>
<rect x="188.7" y="108.35" width="4.8" height="5.75" fill="#cacaca"/>
<rect x="194.12" y="108.35" width="4.8" height="5.75" fill="#cacaca"/>
<rect x="199.54" y="108.35" width="4.8" height="5.75" fill="#cacaca"/>
<rect x="204.96" y="108.35" width="4.8" height="5.75" fill="#cacaca"/>
<rect x="210.38" y="108.35" width="4.8" height="5.75" fill="#cacaca"/>
<rect x="215.8" y="108.35" width="4.8" height="5.75" fill="#cacaca"/>
<rect x="221.22" y="108.35" width="4.8" height="5.75" fill="#cacaca"/>
<rect x="226.64" y="108.35" width="4.8" height="5.75" fill="#cacaca"/>
<rect x="232.06" y="108.35" width="4.8" height="5.75" fill="#cacaca"/>
<rect x="237.48" y="108.35" width="4.8" height="5.75" fill="#cacaca"/>
<rect x="242.9" y="108.35" width="4.8" height="5.75" fill="#cacaca"/>
<rect x="248.32" y="108.35" width="4.8" height="5.75" fill="#cacaca"/>
<rect x="253.74" y="108.35" width="4.8" height="5.75" fill="#cacaca"/>
<rect x="259.16" y="108.35" width="4.8" height="5.75" fill="#cacaca"/>
<rect x="80.3" y="114.75" width="4.8" height="5.75" fill="#cacaca"/>
<rect x="85.72" y="114.75" width="4.8" height="5.75" fill="#cacaca"/>
<rect x="91.14" y="114.75" width="4.8" height="5.75" fill="#cacaca"/>
<rect x="96.56" y="114.75" width="4.8" height="5.75" fill="#cacaca"/>
<rect x="101.98" y="114.75" width="4.8" height="5.75" fill="#cacaca"/>
<rect x="107.4" y="114.75" width="4.8" height="5.75" fill="#cacaca"/>
<rect x="112.82" y="114.75" width="4.8" height="5.75" fill="#cacaca"/>
<rect x="118.24" y="114.75" width="4.8" height="5.75" fill="#cacaca"/>
<rect x="123.66" y="114.75" width="4.8" height="5.75" fill="#cacaca"/>
<rect x="129.08" y="114.75" width="4.8" height="5.75" fill="#cacaca"/>
<rect x="134.5" y="114.75" width="4.8" height="5.75" fill="#cacaca"/>
<rect x="139.92" y="114.75" width="4.8" height="5.75" fill="#cacaca"/>
<rect x="145.34" y="114.75" width="4.8" height="5.75" fill="#cacaca"/>
<rect x="150.76" y="114.75" width="4.8" height="5.75" fill="#cacaca"/>
<rect x="156.18" y="114.75" width="4.8" height="5.75" fill="#cacaca"/>
<rect x="161.6" y="114.75" width="4.8" height="5.75" fill="#cacaca"/>
<rect x="167.02" y="114.75" width="4.8" height="5.75" fill="#cacaca"/>
<rect x="172.44" y="114.75" width="4.8" height="5.75" fill="#cacaca"/>
<rect x="177.86" y="114.75" width="4.8" height="5.75" fill="#cacaca"/>
<rect x="183.28" y="114.75" width="4.8" height="5.75" fill="#cacaca"/>
<rect x="188.7" y="114.75" width="4.8" height="5.75" fill="#cacaca"/>
<rect x="194.12" y="114.75" width="4.8" height="5.75" fill="#cacaca"/>
<rect x="199.54" y="114.75" width="4.8" height="5.75" fill="#cacaca"/>
<rect x="204.96" y="114.75" width="4.8" height="5.75" fill="#cacaca"/>
<rect x="210.38" y="114.75" width="4.8" height="5.75" fill="#cacaca"/>
<rect x="215.8" y="114.75" width="4.8" height="5.75" fill="#cacaca"/>
<rect x="221.22" y="114.75" width="4.8" height="5.75" fill="#cacaca"/>
<rect x="226.64" y="114.75" width="4.8" height="5.75" fill="#cacaca"/>
<rect x="232.06" y="114.75" width="4.8" height="5.75" fill="#cacaca"/>
<rect x="237.48" y="114.75" width="4.8" height="5.75" fill="#cacaca"/>
<rect x="242.9" y="114.75" width="4.8" height="5.75" fill="#cacaca"/>
<rect x="248.32" y="114.75" width="4.8" height="5.75" fill="#cacaca"/>
<rect x="253.74" y="114.75" width="4.8" height="5.75" fill="#cacaca"/>
<rect x="259.16" y="114.75" width="4.8" height="5.75" fill="#cacaca"/>
<rect x="80.3" y="121.15" width="4.8" height="5.75" fill="#cacaca"/>
<rect x="85.72" y="121.15" width="4.8" height="5.75" fill="#cacaca"/>
<rect x="91.14" y="121.15" width="4.8" height="5.75" fill="#cacaca"/>
<rect x="96.56" y="121.15" width="4.8" height="5.75" fill="#cacaca"/>
<rect x="101.98" y="121.15" width="4.8" height="5.75" fill="#cacaca"/>
<rect x="107.4" y="121.15" width="4.8" height="5.75" fill="#cacaca"/>
<rect x="112.82" y="121.15" width="4.8" height="5.75" fill="#cacaca"/>
<rect x="118.24" y="121.15" width="4.8" height="5.75" fill="#cacaca"/>
<rect x="123.66" y="121.15" width="4.8" height="5.75" fill="#cacaca"/>
<rect x="129.08" y="121.15" width="4.8" height="5.75" fill="#cacaca"/>
<rect x="134.5" y="121.15" width="4.8" height="5.75" fill="#cacaca"/>
<rect x="139.92" y="121.15" width="4.8" height="5.75" fill="#cacaca"/>
<rect x="145.34" y="121.15" width="4.8" height="5.75" fill="#cacaca"/>
<rect x="150.76" y="121.15" width="4.8" height="5.75" fill="#cacaca"/>
<rect x="156.18" y="121.15" width="4.8" height="5.75" fill="#cacaca"/>
<rect x="161.6" y="121.15" width="4.8" height="5.75" fill="#cacaca"/>
<rect x="167.02" y="121.15" width="4.8" height="5.75" fill="#cacaca"/>
<rect x="172.44" y="121.15" width="4.8" height="5.75" fill="#cacaca"/>
<rect x="177.86" y="121.15" width="4.8" height="5.75" fill="#cacaca"/>
<rect x="183.28" y="121.15" width="4.8" height="5.75" fill="#cacaca"/>
<rect x="188.7" y="121.15" width="4.8" height="5.75" fill="#cacaca"/>
<rect x="194.12" y="121.15" width="4.8" height="5.75" fill="#cacaca"/>
<rect x="199.54" y="121.15" width="4.8" height="5.75" fill="#cacaca"/>
<rect x="204.96" y="121.15" width="4.8" height="5.75" fill="#cacaca"/>
<rect x="210.38" y="121.15" width="4.8" height="5.75" fill="#cacaca"/>
<rect x="215.8" y="121.15" width="4.8" height="5.75" fill="#cacaca"/>
<rect x="221.22" y="121.15" width="4.8" height="5.75" fill="#cacaca"/>
<rect x="226.64" y="121.15" width="4.8" height="5.75" fill="#cacaca"/>
<rect x="232.06" y="121.15" width="4.8" height="5.75" fill="#cacaca"/>
<rect x="237.48" y="121.15" width="4.8" height="5.75" fill="#cacaca"/>
<rect x="242.9" y="121.15" width="4.8" height="5.75" fill="#cacaca"/>
<rect x="248.32" y="121.15" width="4.8" height="5.75" fill="#cacaca"/>
<rect x="253.74" y="121.15" width="4.8" height="5.75" fill="#cacaca"/>
<rect x="259.16" y="121.15" width="4.8" height="5.75" fill="#cacaca"/>
<rect x="80.3" y="127.55" width="4.8" height="5.75" fill="#cacaca"/>
<rect x="85.72" y="127.55" width="4.8" height="5.75" fill="#cacaca"/>
<rect x="91.14" y="127.55" width="4.8" height="5.75" fill="#cacaca"/>
<rect x="96.56" y="127.55" width="4.8" height="5.75" fill="#cacaca"/>
<rect x="101.98" y="127.55" width="4.8" height="5.75" fill="#cacaca"/>
<rect x="107.4" y="127.55" width="4.8" height="5.75" fill="#cacaca"/>
<rect x="112.82" y="127.55" width="4.8" height="5.75" fill="#cacaca"/>
<rect x="118.24" y="127.55" width="4.8" height="5.75" fill="#cacaca"/>
<rect x="123.66" y="127.55" width="4.8" height="5.75" fill="#cacaca"/>
<rect x="129.08" y="127.55" width="4.8" height="5.75" fill="#cacaca"/>
<rect x="134.5" y="127.55" width="4.8" height="5.75" fill="#cacaca"/>
<rect x="139.92" y="127.55" width="4.8" height="5.75" fill="#cacaca"/>
<rect x="145.34" y="127.55" width="4.8" height="5.75" fill="#cacaca"/>
<rect x="150.76" y="127.55" width="4.8" height="5.75" fill="#cacaca"/>
<rect x="156.18" y="127.55" width="4.8" height="5.75" fill="#cacaca"/>
<rect x="161.6" y="127.55" width="4.8" height="5.75" fill="#cacaca"/>
<rect x="167.02" y="127.55" width="4.8" height="5.75" fill="#cacaca"/>
<rect x="172.44" y="127.55" width="4.8" height="5.75" fill="#cacaca"/>
<rect x="177.86" y="127.55" width="4.8" height="5.75" fill="#cacaca"/>
<rect x="183.28" y="127.55" width="4.8" height="5.75" fill="#cacaca"/>
<rect x="188.7" y="127.55" width="4.8" height="5.75" fill="#cacaca"/>
<rect x="194.12" y="127.55" width="4.8" height="5.75" fill="#cacaca"/>
<rect x="199.54" y="127.55" width="4.8" height="5.75" fill="#cacaca"/>
<rect x="204.96" y="127.55" width="4.8" height="5.75" fill="#cacaca"/>
<rect x="210.38" y="127.55" width="4.8" height="5.75" fill="#cacaca"/>
<rect x="215.8" y="127.55" width="4.8" height="5.75" fill="#cacaca"/>
<rect x="221.22" y="127.55" width="4.8" height="5.75" fill="#cacaca"/>
<rect x="226.64" y="127.55" width="4.8" height="5.75" fill="#cacaca"/>
<rect x="232.06" y="127.55" width="4.8" height="5.75" fill="#cacaca"/>
<rect x="237.48" y="127.55" width="4.8" height="5.75" fill="#cacaca"/>
<rect x="242.9" y="127.55" width="4.8" height="5.75" fill="#cacaca"/>
<rect x="248.32" y="127.55" width="4.8" height="5.75" fill="#cacaca"/>
<rect x="253.74" y="127.55" width="4.8" height="5.75" fill="#cacaca"/>
<rect x="259.16" y="127.55" width="4.8" height="5.75" fill="#cacaca"/>
<rect x="80.3" y="133.95" width="4.8" height="5.75" fill="#cacaca"/>
<rect x="85.72" y="133.95" width="4.8" height="5.75" fill="#cacaca"/>
<rect x="91.14" y="133.95" width="4.8" height="5.75" fill="#cacaca"/>
<rect x="96.56" y="133.95" width="4.8" height="5.75" fill="#cacaca"/>
<rect x="101.98" y="133.95" width="4.8" height="5.75" fill="#cacaca"/>
<rect x="107.4" y="133.95" width="4.8" height="5.75" fill="#cacaca"/>
<rect x="112.82" y="133.95" width="4.8" height="5.75" fill="#cacaca"/>
<rect x="118.24" y="133.95" width="4.8" height="5.75" fill="#cacaca"/>
<rect x="123.66" y="133.95" width="4.8" height="5.75" fill="#cacaca"/>
<rect x="129.08" y="133.95" width="4.8" height="5.75" fill="#cacaca"/>
<rect x="134.5" y="133.95" width="4.8" height="5.75" fill="#cacaca"/>
<rect x="139.92" y="133.95" width="4.8" height="5.75" fill="#cacaca"/>
<rect x="145.34" y="133.95" width="4.8" height="5.75" fill="#cacaca"/>
<rect x="150.76" y="133.95" width="4.8" height="5.75" fill="#cacaca"/>
<rect x="156.18" y="133.95" width="4.8" height="5.75" fill="#cacaca"/>
<rect x="161.6" y="133.95" width="4.8" height="5.75" fill="#cacaca"/>
<rect x="167.02" y="133.95" width="4.8" height="5.75" fill="#cacaca"/>
<rect x="172.44" y="133.95" width="4.8" height="5.75" fill="#cacaca"/>
<rect x="177.86" y="133.95" width="4.8" height="5.75" fill="#cacaca"/>
<rect x="183.28" y="133.95" width="4.8" height="5.75" fill="#cacaca"/>
<rect x="188.7" y="133.95" width="4.8" height="5.75" fill="#cacaca"/>
<rect x="194.12" y="133.95" width="4.8" height="5.75" fill="#cacaca"/>
<rect x="199.54" y="133.95" width="4.8" height="5.75" fill="#cacaca"/>
<rect x="204.96" y="133.95" width="4.8" height="5.75" fill="#cacaca"/>
<rect x="210.38" y="133.95" width="4.8" height="5.75" fill="#cacaca"/>
<rect x="215.8" y="133.95" width="4.8" height="5.75" fill="#cacaca"/>
<rect x="221.22" y="133.95" width="4.8" height="5.75" fill="#cacaca"/>
<rect x="226.64" y="133.95" width="4.8" height="5.75" fill="#cacaca"/>
<rect x="232.06" y="133.95" width="4.8" height="5.75" fill="#cacaca"/>
<rect x="237.48" y="133.95" width="4.8" height="5.75" fill="#cacaca"/>
<rect x="242.9" y="133.95" width="4.8" height="5.75" fill="#cacaca"/>
<rect x="248.32" y="133.95" width="4.8" height="5.75" fill="#cacaca"/>
<rect x="253.74" y="133.95" width="4.8" height="5.75" fill="#cacaca"/>
<rect x="259.16" y="133.95" width="4.8" height="5.75" fill="#cacaca"/>
<rect x="80.3" y="140.35" width="4.8" height="5.75" fill="#cacaca"/>
<rect x="85.72" y="140.35" width="4.8" height="5.75" fill="#cacaca"/>
<rect x="91.14" y="140.35" width="4.8" height="5.75" fill="#cacaca"/>
<rect x="96.56" y="140.35" width="4.8" height="5.75" fill="#cacaca"/>
<rect x="101.98" y="140.35" width="4.8" height="5.75" fill="#cacaca"/>
<rect x="107.4" y="140.35" width="4.8" height="5.75" fill="#cacaca"/>
<rect x="112.82" y="140.35" width="4.8" height="5.75" fill="#cacaca"/>
<rect x="118.24" y="140.35" width="4.8" height="5.75" fill="#cacaca"/>
<rect x="123.66" y="140.35" width="4.8" height="5.75" fill="#cacaca"/>
<rect x="129.08" y="140.35" width="4.8" height="5.75" fill="#cacaca"/>
<rect x="134.5" y="140.35" width="4.8" height="5.75" fill="#cacaca"/>
<rect x="139.92" y="140.35" width="4.8" height="5.75" fill="#cacaca"/>
<rect x="145.34" y="140.35" width="4.8" height="5.75" fill="#cacaca"/>
<rect x="150.76" y="140.35" width="4.8" height="5.75" fill="#cacaca"/>
<rect x="156.18" y="140.35" width="4.8" height="5.75" fill="#cacaca"/>
<rect x="161.6" y="140.35" width="4.8" height="5.75" fill="#cacaca"/>
<rect x="167.02" y="140.35" width="4.8" height="5.75" fill="#cacaca"/>
<rect x="172.44" y="140.35" width="4.8" height="5.75" fill="#cacaca"/>
<rect x="177.86" y="140.35" width="4.8" height="5.75" fill="#cacaca"/>
<rect x="183.28" y="140.35" width="4.8" height="5.75" fill="#cacaca"/>
<rect x="188.7" y="140.35" width="4.8" height="5.75" fill="#cacaca"/>
<rect x="194.12" y="140.35" width="4.8" height="5.75" fill="#cacaca"/>
<rect x="199.54" y="140.35" width="4.8" height="5.75" fill="#cacaca"/>
<rect x="204.96" y="140.35" width="4.8" height="5.75" fill="#cacaca"/>
<rect x="210.38" y="140.35" width="4.8" height="5.75" fill="#cacaca"/>
<rect x="215.8" y="140.35" width="4.8" height="5.75" fill="#cacaca"/>
<rect x="221.22" y="140.35" width="4.8" height="5.75" fill="#cacaca"/>
<rect x="226.64" y="140.35" width="4.8" height="5.75" fill="#cacaca"/>
<rect x="232.06" y="140.35" width="4.8" height="5.75" fill="#cacaca"/>
<rect x="237.48" y="140.35" width="4.8" height="5.75" fill="#cacaca"/>
<rect x="242.9" y="140.35" width="4.8" height="5.75" fill="#cacaca"/>
<rect x="248.32" y="140.35" width="4.8" height="5.75" fill="#cacaca"/>
<rect x="253.74" y="140.35" width="4.8" height="5.75" fill="#cacaca"/>
<rect x="259.16" y="140.35" width="4.8" height="5.75" fill="#cacaca"/>
<rect x="80.3" y="146.75" width="4.8" height="5.75" fill="#cacaca"/>
<rect x="85.72" y="146.75" width="4.8" height="5.75" fill="#cacaca"/>
<rect x="91.14" y="146.75" width="4.8" height="5.75" fill="#cacaca"/>
<rect x="96.56" y="146.75" width="4.8" height="5.75" fill="#cacaca"/>
<rect x="101.98" y="146.75" width="4.8" height="5.75" fill="#cacaca"/>
<rect x="107.4" y="146.75" width="4.8" height="5.75" fill="#cacaca"/>
<rect x="112.82" y="146.75" width="4.8" height="5.75" fill="#cacaca"/>
<rect x="118.24" y="146.75" width="4.8" height="5.75" fill="#cacaca"/>
<rect x="123.66" y="146.75" width="4.8" height="5.75" fill="#cacaca"/>
<rect x="129.08" y="146.75" width="4.8" height="5.75" fill="#cacaca"/>
<rect x="134.5" y="146.75" width="4.8" height="5.75" fill="#cacaca"/>
<rect x="139.92" y="146.75" width="4.8" height="5.75" fill="#cacaca"/>
<rect x="145.34" y="146.75" width="4.8" height="5.75" fill="#cacaca"/>
<rect x="150.76" y="146.75" width="4.8" height="5.75" fill="#cacaca"/>
<rect x="156.18" y="146.75" width="4.8" height="5.75" fill="#cacaca"/>
<rect x="161.6" y="146.75" width="4.8" height="5.75" fill="#cacaca"/>
<rect x="167.02" y="146.75" width="4.8" height="5.75" fill="#cacaca"/>
<rect x="172.44" y="146.75" width="4.8" height="5.75" fill="#cacaca"/>
<rect x="177.86" y="146.75" width="4.8" height="5.75" fill="#cacaca"/>
<rect x="183.28" y="146.75" width="4.8" height="5.75" fill="#cacaca"/>
<rect x="188.7" y="146.75" width="4.8" height="5.75" fill="#cacaca"/>
<rect x="194.12" y="146.75" width="4.8" height="5.75" fill="#cacaca"/>
<rect x="199.54" y="146.75" width="4.8" height="5.75" fill="#cacaca"/>
<rect x="204.96" y="146.75" width="4.8" height="5.75" fill="#cacaca"/>
<rect x="210.38" y="146.75" width="4.8" height="5.75" fill="#cacaca"/>
<rect x="215.8" y="146.75" width="4.8" height="5.75" fill="#cacaca"/>
<rect x="221.22" y="146.75" width="4.8" height="5.75" fill="#cacaca"/>
<rect x="226.64" y="146.75" width="4.8" height="5.75" fill="#cacaca"/>
<rect x="232.06" y="146.75" width="4.8" height="5.75" fill="#cacaca"/>
<rect x="237.48" y="146.75" width="4.8" height="5.75" fill="#cacaca"/>
<rect x="242.9" y="146.75" width="4.8" height="5.75" fill="#cacaca"/>
<rect x="248.32" y="146.75" width="4.8" height="5.75" fill="#cacaca"/>
<rect x="253.74" y="146.75" width="4.8" height="5.75" fill="#cacaca"/>
<rect x="259.16" y="146.75" width="4.8" height="5.75" fill="#cacaca"/>
<rect x="80.3" y="154.9" width="4.8" height="5.75" fill="#cacaca"/>
<rect x="85.72" y="154.9" width="4.8" height="5.75" fill="#cacaca"/>
<rect x="91.14" y="154.9" width="4.8" height="5.75" fill="#cacaca"/>
<rect x="96.56" y="154.9" width="4.8" height="5.75" fill="#cacaca"/>
<rect x="101.98" y="154.9" width="4.8" height="5.75" fill="#cacaca"/>
<rect x="107.4" y="154.9" width="4.8" height="5.75" fill="#cacaca"/>
<rect x="112.82" y="154.9" width="4.8" height="5.75" fill="#cacaca"/>
<rect x="118.24" y="154.9" width="4.8" height="5.75" fill="#cacaca"/>
<rect x="123.66" y="154.9" width="4.8" height="5.75" fill="#cacaca"/>
<rect x="129.08" y="154.9" width="4.8" height="5.75" fill="#cacaca"/>
<rect x="134.5" y="154.9" width="4.8" height="5.75" fill="#cacaca"/>
<rect x="139.92" y="154.9" width="4.8" height="5.75" fill="#cacaca"/>
<rect x="145.34" y="154.9" width="4.8" height="5.75" fill="#cacaca"/>
<rect x="150.76" y="154.9" width="4.8" height="5.75" fill="#cacaca"/>
<rect x="156.18" y="154.9" width="4.8" height="5.75" fill="#cacaca"/>
<rect x="161.6" y="154.9" width="4.8" height="5.75" fill="#cacaca"/>
<rect x="167.02" y="154.9" width="4.8" height="5.75" fill="#cacaca"/>
<rect x="172.44" y="154.9" width="4.8" height="5.75" fill="#cacaca"/>
<rect x="177.86" y="154.9" width="4.8" height="5.75" fill="#cacaca"/>
<rect x="183.28" y="154.9" width="4.8" height="5.75" fill="#cacaca"/>
<rect x="188.7" y="154.9" width="4.8" height="5.75" fill="#cacaca"/>
<rect x="194.12" y="154.9" width="4.8" height="5.75" fill="#cacaca"/>
<rect x="199.54" y="154.9" width="4.8" height="5.75" fill="#cacaca"/>
<rect x="204.96" y="154.9" width="4.8" height="5.75" fill="#cacaca"/>
<rect x="210.38" y="154.9" width="4.8" height="5.75" fill="#cacaca"/>
<rect x="215.8" y="154.9" width="4.8" height="5.75" fill="#cacaca"/>
<rect x="221.22" y="154.9" width="4.8" height="5.75" fill="#cacaca"/>
<rect x="226.64" y="154.9" width="4.8" height="5.75" fill="#cacaca"/>
<rect x="232.06" y="154.9" width="4.8" height="5.75" fill="#cacaca"/>
<rect x="237.48" y="154.9" width="4.8" height="5.75" fill="#cacaca"/>
<rect x="242.9" y="154.9" width="4.8" height="5.75" fill="#cacaca"/>
<rect x="248.32" y="154.9" width="4.8" height="5.75" fill="#cacaca"/>
<rect x="253.74" y="154.9" width="4.8" height="5.75" fill="#cacaca"/>
<rect x="259.16" y="154.9" width="4.8" height="5.75" fill="#cacaca"/>
<rect x="80.3" y="161.3" width="4.8" height="5.75" fill="#cacaca"/>
<rect x="85.72" y="161.3" width="4.8" height="5.75" fill="#cacaca"/>
<rect x="91.14" y="161.3" width="4.8" height="5.75" fill="#cacaca"/>
<rect x="96.56" y="161.3" width="4.8" height="5.75" fill="#cacaca"/>
<rect x="101.98" y="161.3" width="4.8" height="5.75" fill="#cacaca"/>
<rect x="107.4" y="161.3" width="4.8" height="5.75" fill="#cacaca"/>
<rect x="112.82" y="161.3" width="4.8" height="5.75" fill="#cacaca"/>
<rect x="118.24" y="161.3" width="4.8" height="5.75" fill="#cacaca"/>
<rect x="123.66" y="161.3" width="4.8" height="5.75" fill="#cacaca"/>
<rect x="129.08" y="161.3" width="4.8" height="5.75" fill="#cacaca"/>
<rect x="134.5" y="161.3" width="4.8" height="5.75" fill="#cacaca"/>
<rect x="139.92" y="161.3" width="4.8" height="5.75" fill="#cacaca"/>
<rect x="145.34" y="161.3" width="4.8" height="5.75" fill="#cacaca"/>
<rect x="150.76" y="161.3" width="4.8" height="5.75" fill="#cacaca"/>
<rect x="156.18" y="161.3" width="4.8" height="5.75" fill="#cacaca"/>
<rect x="161.6" y="161.3" width="4.8" height="5.75" fill="#cacaca"/>
<rect x="167.02" y="161.3" width="4.8" height="5.75" fill="#cacaca"/>
<rect x="172.44" y="161.3" width="4.8" height="5.75" fill="#cacaca"/>
<rect x="177.86" y="161.3" width="4.8" height="5.75" fill="#cacaca"/>
<rect x="183.28" y="161.3" width="4.8" height="5.75" fill="#cacaca"/>
<rect x="188.7" y="161.3" width="4.8" height="5.75" fill="#cacaca"/>
<rect x="194.12" y="161.3" width="4.8" height="5.75" fill="#cacaca"/>
<rect x="199.54" y="161.3" width="4.8" height="5.75" fill="#cacaca"/>
<rect x="204.96" y="161.3" width="4.8" height="5.75" fill="#cacaca"/>
<rect x="210.38" y="161.3" width="4.8" height="5.75" fill="#cacaca"/>
<rect x="215.8" y="161.3" width="4.8" height="5.75" fill="#cacaca"/>
<rect x="221.22" y="161.3" width="4.8" height="5.75" fill="#cacaca"/>
<rect x="226.64" y="161.3" width="4.8" height="5.75" fill="#cacaca"/>
<rect x="232.06" y="161.3" width="4.8" height="5.75" fill="#cacaca"/>
<rect x="237.48" y="161.3" width="4.8" height="5.75" fill="#cacaca"/>
<rect x="242.9" y="161.3" width="4.8" height="5.75" fill="#cacaca"/>
<rect x="248.32" y="161.3" width="4.8" height="5.75" fill="#cacaca"/>
<rect x="253.74" y="161.3" width="4.8" height="5.75" fill="#cacaca"/>
<rect x="259.16" y="161.3" width="4.8" height="5.75" fill="#cacaca"/>
<rect x="80.3" y="167.7" width="4.8" height="5.75" fill="#cacaca"/>
<rect x="85.72" y="167.7" width="4.8" height="5.75" fill="#cacaca"/>
<rect x="91.14" y="167.7" width="4.8" height="5.75" fill="#cacaca"/>
<rect x="96.56" y="167.7" width="4.8" height="5.75" fill="#cacaca"/>
<rect x="101.98" y="167.7" width="4.8" height="5.75" fill="#cacaca"/>
<rect x="107.4" y="167.7" width="4.8" height="5.75" fill="#cacaca"/>
<rect x="112.82" y="167.7" width="4.8" height="5.75" fill="#cacaca"/>
<rect x="118.24" y="167.7" width="4.8" height="5.75" fill="#cacaca"/>
<rect x="123.66" y="167.7" width="4.8" height="5.75" fill="#cacaca"/>
<rect x="129.08" y="167.7" width="4.8" height="5.75" fill="#cacaca"/>
<rect x="134.5" y="167.7" width="4.8" height="5.75" fill="#cacaca"/>
<rect x="139.92" y="167.7" width="4.8" height="5.75" fill="#cacaca"/>
<rect x="145.34" y="167.7" width="4.8" height="5.75" fill="#cacaca"/>
<rect x="150.76" y="167.7" width="4.8" height="5.75" fill="#cacaca"/>
<rect x="156.18" y="167.7" width="4.8" height="5.75" fill="#cacaca"/>
<rect x="161.6" y="167.7" width="4.8" height="5.75" fill="#cacaca"/>
<rect x="167.02" y="167.7" width="4.8" height="5.75" fill="#cacaca"/>
<rect x="172.44" y="167.7" width="4.8" height="5.75" fill="#cacaca"/>
<rect x="177.86" y="167.7" width="4.8" height="5.75" fill="#cacaca"/>
<rect x="183.28" y="167.7" width="4.8" height="5.75" fill="#cacaca"/>
<rect x="188.7" y="167.7" width="4.8" height="5.75" fill="#cacaca"/>
<rect x="194.12" y="167.7" width="4.8" height="5.75" fill="#cacaca"/>
<rect x="199.54" y="167.7" width="4.8" height="5.75" fill="#cacaca"/>
<rect x="204.96" y="167.7" width="4.8" height="5.75" fill="#cacaca"/>
<rect x="210.38" y="167.7" width="4.8" height="5.75" fill="#cacaca"/>
<rect x="215.8" y="167.7" width="4.8" height="5.75" fill="#cacaca"/>
<rect x="221.22" y="167.7" width="4.8" height="5.75" fill="#cacaca"/>
<rect x="226.64" y="167.7" width="4.8" height="5.75" fill="#cacaca"/>
<rect x="232.06" y="167.7" width="4.8" height="5.75" fill="#cacaca"/>
<rect x="237.48" y="167.7" width="4.8" height="5.75" fill="#cacaca"/>
<rect x="242.9" y="167.7" width="4.8" height="5.75" fill="#cacaca"/>
<rect x="248.32" y="167.7" width="4.8" height="5.75" fill="#cacaca"/>
<rect x="253.74" y="167.7" width="4.8" height="5.75" fill="#cacaca"/>
<rect x="259.16" y="167.7" width="4.8" height="5.75" fill="#cacaca"/>
<rect x="80.3" y="174.1" width="4.8" height="5.75" fill="#cacaca"/>
<rect x="85.72" y="174.1" width="4.8" height="5.75" fill="#cacaca"/>
<rect x="91.14" y="174.1" width="4.8" height="5.75" fill="#cacaca"/>
<rect x="96.56" y="174.1" width="4.8" height="5.75" fill="#cacaca"/>
<rect x="101.98" y="174.1" width="4.8" height="5.75" fill="#cacaca"/>
<rect x="107.4" y="174.1" width="4.8" height="5.75" fill="#cacaca"/>
<rect x="112.82" y="174.1" width="4.8" height="5.75" fill="#cacaca"/>
<rect x="118.24" y="174.1" width="4.8" height="5.75" fill="#cacaca"/>
<rect x="123.66" y="174.1" width="4.8" height="5.75" fill="#cacaca"/>
<rect x="129.08" y="174.1" width="4.8" height="5.75" fill="#cacaca"/>
<rect x="134.5" y="174.1" width="4.8" height="5.75" fill="#cacaca"/>
<rect x="139.92" y="174.1" width="4.8" height="5.75" fill="#cacaca"/>
<rect x="145.34" y="174.1" width="4.8" height="5.75" fill="#cacaca"/>
<rect x="150.76" y="174.1" width="4.8" height="5.75" fill="#cacaca"/>
<rect x="156.18" y="174.1" width="4.8" height="5.75" fill="#cacaca"/>
<rect x="161.6" y="174.1" width="4.8" height="5.75" fill="#cacaca"/>
<rect x="167.02" y="174.1" width="4.8" height="5.75" fill="#cacaca"/>
<rect x="172.44" y="174.1" width="4.8" height="5.75" fill="#cacaca"/>
<rect x="177.86" y="174.1" width="4.8" height="5.75" fill="#cacaca"/>
<rect x="183.28" y="174.1" width="4.8" height="5.75" fill="#cacaca"/>
<rect x="188.7" y="174.1" width="4.8" height="5.75" fill="#cacaca"/>
<rect x="194.12" y="174.1" width="4.8" height="5.75" fill="#cacaca"/>
<rect x="199.54" y="174.1" width="4.8" height="5.75" fill="#cacaca"/>
<rect x="204.96" y="174.1" width="4.8" height="5.75" fill="#cacaca"/>
<rect x="210.38" y="174.1" width="4.8" height="5.75" fill="#cacaca"/>
<rect x="215.8" y="174.1" width="4.8" height="5.75" fill="#cacaca"/>
<rect x="221.22" y="174.1" width="4.8" height="5.75" fill="#cacaca"/>
<rect x="226.64" y="174.1" width="4.8" height="5.75" fill="#cacaca"/>
<rect x="232.06" y="174.1" width="4.8" height="5.75" fill="#cacaca"/>
<rect x="237.48" y="174.1" width="4.8" height="5.75" fill="#cacaca"/>
<rect x="242.9" y="174.1" width="4.8" height="5.75" fill="#cacaca"/>
<rect x="248.32" y="174.1" width="4.8" height="5.75" fill="#cacaca"/>
<rect x="253.74" y="174.1" width="4.8" height="5.75" fill="#cacaca"/>
<rect x="259.16" y="174.1" width="4.8" height="5.75" fill="#cacaca"/>
<rect x="80.3" y="180.5" width="4.8" height="5.75" fill="#cacaca"/>
<rect x="85.72" y="180.5" width="4.8" height="5.75" fill="#cacaca"/>
<rect x="91.14" y="180.5" width="4.8" height="5.75" fill="#cacaca"/>
<rect x="96.56" y="180.5" width="4.8" height="5.75" fill="#cacaca"/>
<rect x="101.98" y="180.5" width="4.8" height="5.75" fill="#cacaca"/>
<rect x="107.4" y="180.5" width="4.8" height="5.75" fill="#cacaca"/>
<rect x="112.82" y="180.5" width="4.8" height="5.75" fill="#cacaca"/>
<rect x="118.24" y="180.5" width="4.8" height="5.75" fill="#cacaca"/>
<rect x="123.66" y="180.5" width="4.8" height="5.75" fill="#cacaca"/>
<rect x="129.08" y="180.5" width="4.8" height="5.75" fill="#cacaca"/>
<rect x="134.5" y="180.5" width="4.8" height="5.75" fill="#cacaca"/>
<rect x="139.92" y="180.5" width="4.8" height="5.75" fill="#cacaca"/>
<rect x="145.34" y="180.5" width="4.8" height="5.75" fill="#cacaca"/>
<rect x="150.76" y="180.5" width="4.8" height="5.75" fill="#cacaca"/>
<rect x="156.18" y="180.5" width="4.8" height="5.75" fill="#cacaca"/>
<rect x="161.6" y="180.5" width="4.8" height="5.75" fill="#cacaca"/>
<rect x="167.02" y="180.5" width="4.8" height="5.75" fill="#cacaca"/>
<rect x="172.44" y="180.5" width="4.8" height="5.75" fill="#cacaca"/>
<rect x="177.86" y="180.5" width="4.8" height="5.75" fill="#cacaca"/>
<rect x="183.28" y="180.5" width="4.8" height="5.75" fill="#cacaca"/>
<rect x="188.7" y="180.5" width="4.8" height="5.75" fill="#cacaca"/>
<rect x="194.12" y="180.5" width="4.8" height="5.75" fill="#cacaca"/>
<rect x="199.54" y="180.5" width="4.8" height="5.75" fill="#cacaca"/>
<rect x="204.96" y="180.5" width="4.8" height="5.75" fill="#cacaca"/>
<rect x="210.38" y="180.5" width="4.8" height="5.75" fill="#cacaca"/>
<rect x="215.8" y="180.5" width="4.8" height="5.75" fill="#cacaca"/>
<rect x="221.22" y="180.5" width="4.8" height="5.75" fill="#cacaca"/>
<rect x="226.64" y="180.5" width="4.8" height="5.75" fill="#cacaca"/>
<rect x="232.06" y="180.5" width="4.8" height="5.75" fill="#cacaca"/>
<rect x="237.48" y="180.5" width="4.8" height="5.75" fill="#cacaca"/>
<rect x="242.9" y="180.5" width="4.8" height="5.75" fill="#cacaca"/>
<rect x="248.32" y="180.5" width="4.8" height="5.75" fill="#cacaca"/>
<rect x="253.74" y="180.5" width="4.8" height="5.75" fill="#cacaca"/>
<rect x="259.16" y="180.5" width="4.8" height="5.75" fill="#cacaca"/>
<rect x="80.3" y="189.1" width="4.8" height="5.75" fill="#cacaca"/>
<rect x="85.72" y="189.1" width="4.8" height="5.75" fill="#cacaca"/>
<rect x="91.14" y="189.1" width="4.8" height="5.75" fill="#cacaca"/>
<rect x="96.56" y="189.1" width="4.8" height="5.75" fill="#cacaca"/>
<rect x="101.98" y="189.1" width="4.8" height="5.75" fill="#cacaca"/>
<rect x="107.4" y="189.1" width="4.8" height="5.75" fill="#cacaca"/>
<rect x="112.82" y="189.1" width="4.8" height="5.75" fill="#cacaca"/>
<rect x="118.24" y="189.1" width="4.8" height="5.75" fill="#cacaca"/>
<rect x="123.66" y="189.1" width="4.8" height="5.75" fill="#cacaca"/>
<rect x="129.08" y="189.1" width="4.8" height="5.75" fill="#cacaca"/>
<rect x="134.5" y="189.1" width="4.8" height="5.75" fill="#cacaca"/>
<rect x="139.92" y="189.1" width="4.8" height="5.75" fill="#cacaca"/>
<rect x="145.34" y="189.1" width="4.8" height="5.75" fill="#cacaca"/>
<rect x="150.76" y="189.1" width="4.8" height="5.75" fill="#cacaca"/>
<rect x="156.18" y="189.1" width="4.8" height="5.75" fill="#cacaca"/>
<rect x="161.6" y="189.1" width="4.8" height="5.75" fill="#cacaca"/>
<rect x="167.02" y="189.1" width="4.8" height="5.75" fill="#cacaca"/>
<rect x="172.44" y="189.1" width="4.8" height="5.75" fill="#cacaca"/>
<rect x="177.86" y="189.1" width="4.8" height="5.75" fill="#cacaca"/>
<rect x="183.28" y="189.1" width="4.8" height="5.75" fill="#cacaca"/>
<rect x="188.7" y="189.1" width="4.8" height="5.75" fill="#cacaca"/>
<rect x="194.12" y="189.1" width="4.8" height="5.75" fill="#cacaca"/>
<rect x="199.54" y="189.1" width="4.8" height="5.75" fill="#cacaca"/>
<rect x="204.96" y="189.1" width="4.8" height="5.75" fill="#cacaca"/>
<rect x="210.38" y="189.1" width="4.8" height="5.75" fill="#cacaca"/>
<rect x="215.8" y="189.1" width="4.8" height="5.75" fill="#cacaca"/>
<rect x="221.22" y="189.1" width="4.8" height="5.75" fill="#cacaca"/>
<rect x="226.64" y="189.1" width="4.8" height="5.75" fill="#cacaca"/>
<rect x="232.06" y="189.1" width="4.8" height="5.75" fill="#cacaca"/>
<rect x="237.48" y="189.1" width="4.8" height="5.75" fill="#cacaca"/>
<rect x="242.9" y="189.1" width="4.8" height="5.75" fill="#cacaca"/>
<rect x="248.32" y="189.1" width="4.8" height="5.75" fill="#cacaca"/>
<rect x="253.74" y="189.1" width="4.8" height="5.75" fill="#cacaca"/>
<rect x="259.16" y="189.1" width="4.8" height="5.75" fill="#cacaca"/>
<rect x="80.3" y="195.3" width="4.8" height="5.75" fill="#cacaca"/>
<rect x="85.72" y="195.3" width="4.8" height="5.75" fill="#cacaca"/>
<rect x="91.14" y="195.3" width="4.8" height="5.75" fill="#cacaca"/>
<rect x="96.56" y="195.3" width="4.8" height="5.75" fill="#cacaca"/>
<rect x="101.98" y="195.3" width="4.8" height="5.75" fill="#cacaca"/>
<rect x="107.4" y="195.3" width="4.8" height="5.75" fill="#cacaca"/>
<rect x="112.82" y="195.3" width="4.8" height="5.75" fill="#cacaca"/>
<rect x="118.24" y="195.3" width="4.8" height="5.75" fill="#cacaca"/>
<rect x="123.66" y="195.3" width="4.8" height="5.75" fill="#cacaca"/>
<rect x="129.08" y="195.3" width="4.8" height="5.75" fill="#cacaca"/>
<rect x="134.5" y="195.3" width="4.8" height="5.75" fill="#cacaca"/>
<rect x="139.92" y="195.3" width="4.8" height="5.75" fill="#cacaca"/>
<rect x="145.34" y="195.3" width="4.8" height="5.75" fill="#cacaca"/>
<rect x="150.76" y="195.3" width="4.8" height="5.75" fill="#cacaca"/>
<rect x="156.18" y="195.3" width="4.8" height="5.75" fill="#cacaca"/>
<rect x="161.6" y="195.3" width="4.8" height="5.75" fill="#cacaca"/>
<rect x="167.02" y="195.3" width="4.8" height="5.75" fill="#cacaca"/>
<rect x="172.44" y="195.3" width="4.8" height="5.75" fill="#cacaca"/>
<rect x="177.86" y="195.3" width="4.8" height="5.75" fill="#cacaca"/>
<rect x="183.28" y="195.3" width="4.8" height="5.75" fill="#cacaca"/>
<rect x="188.7" y="195.3" width="4.8" height="5.75" fill="#cacaca"/>
<rect x="194.12" y="195.3" width="4.8" height="5.75" fill="#cacaca"/>
<rect x="199.54" y="195.3" width="4.8" height="5.75" fill="#cacaca"/>
<rect x="204.96" y="195.3" width="4.8" height="5.75" fill="#cacaca"/>
<rect x="210.38" y="195.3" width="4.8" height="5.75" fill="#cacaca"/>
<rect x="215.8" y="195.3" width="4.8" height="5.75" fill="#cacaca"/>
<rect x="221.22" y="195.3" width="4.8" height="5.75" fill="#cacaca"/>
<rect x="226.64" y="195.3" width="4.8" height="5.75" fill="#cacaca"/>
<rect x="232.06" y="195.3" width="4.8" height="5.75" fill="#cacaca"/>
<rect x="237.48" y="195.3" width="4.8" height="5.75" fill="#cacaca"/>
<rect x="242.9" y="195.3" width="4.8" height="5.75" fill="#cacaca"/>
<rect x="248.32" y="195.3" width="4.8" height="5.75" fill="#cacaca"/>
<rect x="253.74" y="195.3" width="4.8" height="5.75" fill="#cacaca"/>
<rect x="259.16" y="195.3" width="4.8" height="5.75" fill="#cacaca"/>
<rect x="80.3" y="203" width="4.8" height="5.75" fill="#cacaca"/>
<rect x="85.72" y="203" width="4.8" height="5.75" fill="#cacaca"/>
<rect x="91.14" y="203" width="4.8" height="5.75" fill="#cacaca"/>
<rect x="96.56" y="203" width="4.8" height="5.75" fill="#cacaca"/>
<rect x="101.98" y="203" width="4.8" height="5.75" fill="#cacaca"/>
<rect x="107.4" y="203" width="4.8" height="5.75" fill="#cacaca"/>
<rect x="112.82" y="203" width="4.8" height="5.75" fill="#cacaca"/>
<rect x="118.24" y="203" width="4.8" height="5.75" fill="#cacaca"/>
<rect x="123.66" y="203" width="4.8" height="5.75" fill="#cacaca"/>
<rect x="129.08" y="203" width="4.8" height="5.75" fill="#cacaca"/>
<rect x="134.5" y="203" width="4.8" height="5.75" fill="#cacaca"/>
<rect x="139.92" y="203" width="4.8" height="5.75" fill="#cacaca"/>
<rect x="145.34" y="203" width="4.8" height="5.75" fill="#cacaca"/>
<rect x="150.76" y="203" width="4.8" height="5.75" fill="#cacaca"/>
<rect x="156.18" y="203" width="4.8" height="5.75" fill="#cacaca"/>
<rect x="161.6" y="203" width="4.8" height="5.75" fill="#cacaca"/>
<rect x="167.02" y="203" width="4.8" height="5.75" fill="#cacaca"/>
<rect x="172.44" y="203" width="4.8" height="5.75" fill="#cacaca"/>
<rect x="177.86" y="203" width="4.8" height="5.75" fill="#cacaca"/>
<rect x="183.28" y="203" width="4.8" height="5.75" fill="#cacaca"/>
<rect x="188.7" y="203" width="4.8" height="5.75" fill="#cacaca"/>
<rect x="194.12" y="203" width="4.8" height="5.75" fill="#cacaca"/>
<rect x="199.54" y="203" width="4.8" height="5.75" fill="#cacaca"/>
<rect x="204.96" y="203" width="4.8" height="5.75" fill="#cacaca"/>
<rect x="210.38" y="203" width="4.8" height="5.75" fill="#cacaca"/>
<rect x="215.8" y="203" width="4.8" height="5.75" fill="#cacaca"/>
<rect x="221.22" y="203" width="4.8" height="5.75" fill="#cacaca"/>
<rect x="226.64" y="203" width="4.8" height="5.75" fill="#cacaca"/>
<rect x="232.06" y="203" width="4.8" height="5.75" fill="#cacaca"/>
<rect x="237.48" y="203" width="4.8" height="5.75" fill="#cacaca"/>
<rect x="242.9" y="203" width="4.8" height="5.75" fill="#cacaca"/>
<rect x="248.32" y="203" width="4.8" height="5.75" fill="#cacaca"/>
<rect x="253.74" y="203" width="4.8" height="5.75" fill="#cacaca"/>
<rect x="259.16" y="203" width="4.8" height="5.75" fill="#cacaca"/>
<rect x="80.3" y="209.42" width="4.8" height="5.75" fill="#cacaca"/>
<rect x="85.72" y="209.42" width="4.8" height="5.75" fill="#cacaca"/>
<rect x="91.14" y="209.42" width="4.8" height="5.75" fill="#cacaca"/>
<rect x="96.56" y="209.42" width="4.8" height="5.75" fill="#cacaca"/>
<rect x="101.98" y="209.42" width="4.8" height="5.75" fill="#cacaca"/>
<rect x="107.4" y="209.42" width="4.8" height="5.75" fill="#cacaca"/>
<rect x="112.82" y="209.42" width="4.8" height="5.75" fill="#cacaca"/>
<rect x="118.24" y="209.42" width="4.8" height="5.75" fill="#cacaca"/>
<rect x="123.66" y="209.42" width="4.8" height="5.75" fill="#cacaca"/>
<rect x="129.08" y="209.42" width="4.8" height="5.75" fill="#cacaca"/>
<rect x="134.5" y="209.42" width="4.8" height="5.75" fill="#cacaca"/>
<rect x="139.92" y="209.42" width="4.8" height="5.75" fill="#cacaca"/>
<rect x="145.34" y="209.42" width="4.8" height="5.75" fill="#cacaca"/>
<rect x="150.76" y="209.42" width="4.8" height="5.75" fill="#cacaca"/>
<rect x="156.18" y="209.42" width="4.8" height="5.75" fill="#cacaca"/>
<rect x="161.6" y="209.42" width="4.8" height="5.75" fill="#cacaca"/>
<rect x="167.02" y="209.42" width="4.8" height="5.75" fill="#cacaca"/>
<rect x="172.44" y="209.42" width="4.8" height="5.75" fill="#cacaca"/>
<rect x="177.86" y="209.42" width="4.8" height="5.75" fill="#cacaca"/>
<rect x="183.28" y="209.42" width="4.8" height="5.75" fill="#cacaca"/>
<rect x="188.7" y="209.42" width="4.8" height="5.75" fill="#cacaca"/>
<rect x="194.12" y="209.42" width="4.8" height="5.75" fill="#cacaca"/>
<rect x="199.54" y="209.42" width="4.8" height="5.75" fill="#cacaca"/>
<rect x="204.96" y="209.42" width="4.8" height="5.75" fill="#cacaca"/>
<rect x="210.38" y="209.42" width="4.8" height="5.75" fill="#cacaca"/>
<rect x="215.8" y="209.42" width="4.8" height="5.75" fill="#cacaca"/>
<rect x="221.22" y="209.42" width="4.8" height="5.75" fill="#cacaca"/>
<rect x="226.64" y="209.42" width="4.8" height="5.75" fill="#cacaca"/>
<rect x="232.06" y="209.42" width="4.8" height="5.75" fill="#cacaca"/>
<rect x="237.48" y="209.42" width="4.8" height="5.75" fill="#cacaca"/>
<rect x="242.9" y="209.42" width="4.8" height="5.75" fill="#cacaca"/>
<rect x="248.32" y="209.42" width="4.8" height="5.75" fill="#cacaca"/>
<rect x="253.74" y="209.42" width="4.8" height="5.75" fill="#cacaca"/>
<rect x="259.16" y="209.42" width="4.8" height="5.75" fill="#cacaca"/>
<rect x="80.3" y="215.84" width="4.8" height="5.75" fill="#cacaca"/>
<rect x="85.72" y="215.84" width="4.8" height="5.75" fill="#cacaca"/>
<rect x="91.14" y="215.84" width="4.8" height="5.75" fill="#cacaca"/>
<rect x="96.56" y="215.84" width="4.8" height="5.75" fill="#cacaca"/>
<rect x="101.98" y="215.84" width="4.8" height="5.75" fill="#cacaca"/>
<rect x="107.4" y="215.84" width="4.8" height="5.75" fill="#cacaca"/>
<rect x="112.82" y="215.84" width="4.8" height="5.75" fill="#cacaca"/>
<rect x="118.24" y="215.84" width="4.8" height="5.75" fill="#cacaca"/>
<rect x="123.66" y="215.84" width="4.8" height="5.75" fill="#cacaca"/>
<rect x="129.08" y="215.84" width="4.8" height="5.75" fill="#cacaca"/>
<rect x="134.5" y="215.84" width="4.8" height="5.75" fill="#cacaca"/>
<rect x="139.92" y="215.84" width="4.8" height="5.75" fill="#cacaca"/>
<rect x="145.34" y="215.84" width="4.8" height="5.75" fill="#cacaca"/>
<rect x="150.76" y="215.84" width="4.8" height="5.75" fill="#cacaca"/>
<rect x="156.18" y="215.84" width="4.8" height="5.75" fill="#cacaca"/>
<rect x="161.6" y="215.84" width="4.8" height="5.75" fill="#cacaca"/>
<rect x="167.02" y="215.84" width="4.8" height="5.75" fill="#cacaca"/>
<rect x="172.44" y="215.84" width="4.8" height="5.75" fill="#cacaca"/>
<rect x="177.86" y="215.84" width="4.8" height="5.75" fill="#cacaca"/>
<rect x="183.28" y="215.84" width="4.8" height="5.75" fill="#cacaca"/>
<rect x="188.7" y="215.84" width="4.8" height="5.75" fill="#cacaca"/>
<rect x="194.12" y="215.84" width="4.8" height="5.75" fill="#cacaca"/>
<rect x="199.54" y="215.84" width="4.8" height="5.75" fill="#cacaca"/>
<rect x="204.96" y="215.84" width="4.8" height="5.75" fill="#cacaca"/>
<rect x="210.38" y="215.84" width="4.8" height="5.75" fill="#cacaca"/>
<rect x="215.8" y="215.84" width="4.8" height="5.75" fill="#cacaca"/>
<rect x="221.22" y="215.84" width="4.8" height="5.75" fill="#cacaca"/>
<rect x="226.64" y="215.84" width="4.8" height="5.75" fill="#cacaca"/>
<rect x="232.06" y="215.84" width="4.8" height="5.75" fill="#cacaca"/>
<rect x="237.48" y="215.84" width="4.8" height="5.75" fill="#cacaca"/>
<rect x="242.9" y="215.84" width="4.8" height="5.75" fill="#cacaca"/>
<rect x="248.32" y="215.84" width="4.8" height="5.75" fill="#cacaca"/>
<rect x="253.74" y="215.84" width="4.8" height="5.75" fill="#cacaca"/>
<rect x="259.16" y="215.84" width="4.8" height="5.75" fill="#cacaca"/>
<rect x="80.3" y="222.26" width="4.8" height="5.75" fill="#cacaca"/>
<rect x="85.72" y="222.26" width="4.8" height="5.75" fill="#cacaca"/>
<rect x="91.14" y="222.26" width="4.8" height="5.75" fill="#cacaca"/>
<rect x="96.56" y="222.26" width="4.8" height="5.75" fill="#cacaca"/>
<rect x="101.98" y="222.26" width="4.8" height="5.75" fill="#cacaca"/>
<rect x="107.4" y="222.26" width="4.8" height="5.75" fill="#cacaca"/>
<rect x="112.82" y="222.26" width="4.8" height="5.75" fill="#cacaca"/>
<rect x="118.24" y="222.26" width="4.8" height="5.75" fill="#cacaca"/>
<rect x="123.66" y="222.26" width="4.8" height="5.75" fill="#cacaca"/>
<rect x="129.08" y="222.26" width="4.8" height="5.75" fill="#cacaca"/>
<rect x="134.5" y="222.26" width="4.8" height="5.75" fill="#cacaca"/>
<rect x="139.92" y="222.26" width="4.8" height="5.75" fill="#cacaca"/>
<rect x="145.34" y="222.26" width="4.8" height="5.75" fill="#cacaca"/>
<rect x="150.76" y="222.26" width="4.8" height="5.75" fill="#cacaca"/>
<rect x="156.18" y="222.26" width="4.8" height="5.75" fill="#cacaca"/>
<rect x="161.6" y="222.26" width="4.8" height="5.75" fill="#cacaca"/>
<rect x="167.02" y="222.26" width="4.8" height="5.75" fill="#cacaca"/>
<rect x="172.44" y="222.26" width="4.8" height="5.75" fill="#cacaca"/>
<rect x="177.86" y="222.26" width="4.8" height="5.75" fill="#cacaca"/>
<rect x="183.28" y="222.26" width="4.8" height="5.75" fill="#cacaca"/>
<rect x="188.7" y="222.26" width="4.8" height="5.75" fill="#cacaca"/>
<rect x="194.12" y="222.26" width="4.8" height="5.75" fill="#cacaca"/>
<rect x="199.54" y="222.26" width="4.8" height="5.75" fill="#cacaca"/>
<rect x="204.96" y="222.26" width="4.8" height="5.75" fill="#cacaca"/>
<rect x="210.38" y="222.26" width="4.8" height="5.75" fill="#cacaca"/>
<rect x="215.8" y="222.26" width="4.8" height="5.75" fill="#cacaca"/>
<rect x="221.22" y="222.26" width="4.8" height="5.75" fill="#cacaca"/>
<rect x="226.64" y="222.26" width="4.8" height="5.75" fill="#cacaca"/>
<rect x="232.06" y="222.26" width="4.8" height="5.75" fill="#cacaca"/>
<rect x="237.48" y="222.26" width="4.8" height="5.75" fill="#cacaca"/>
<rect x="242.9" y="222.26" width="4.8" height="5.75" fill="#cacaca"/>
<rect x="248.32" y="222.26" width="4.8" height="5.75" fill="#cacaca"/>
<rect x="253.74" y="222.26" width="4.8" height="5.75" fill="#cacaca"/>
<rect x="259.16" y="222.26" width="4.8" height="5.75" fill="#cacaca"/>
<rect x="80.3" y="228.68" width="4.8" height="5.75" fill="#cacaca"/>
<rect x="85.72" y="228.68" width="4.8" height="5.75" fill="#cacaca"/>
<rect x="91.14" y="228.68" width="4.8" height="5.75" fill="#cacaca"/>
<rect x="96.56" y="228.68" width="4.8" height="5.75" fill="#cacaca"/>
<rect x="101.98" y="228.68" width="4.8" height="5.75" fill="#cacaca"/>
<rect x="107.4" y="228.68" width="4.8" height="5.75" fill="#cacaca"/>
<rect x="112.82" y="228.68" width="4.8" height="5.75" fill="#cacaca"/>
<rect x="118.24" y="228.68" width="4.8" height="5.75" fill="#cacaca"/>
<rect x="123.66" y="228.68" width="4.8" height="5.75" fill="#cacaca"/>
<rect x="129.08" y="228.68" width="4.8" height="5.75" fill="#cacaca"/>
<rect x="134.5" y="228.68" width="4.8" height="5.75" fill="#cacaca"/>
<rect x="139.92" y="228.68" width="4.8" height="5.75" fill="#cacaca"/>
<rect x="145.34" y="228.68" width="4.8" height="5.75" fill="#cacaca"/>
<rect x="150.76" y="228.68" width="4.8" height="5.75" fill="#cacaca"/>
<rect x="156.18" y="228.68" width="4.8" height="5.75" fill="#cacaca"/>
<rect x="161.6" y="228.68" width="4.8" height="5.75" fill="#cacaca"/>
<rect x="167.02" y="228.68" width="4.8" height="5.75" fill="#cacaca"/>
<rect x="172.44" y="228.68" width="4.8" height="5.75" fill="#cacaca"/>
<rect x="177.86" y="228.68" width="4.8" height="5.75" fill="#cacaca"/>
<rect x="183.28" y="228.68" width="4.8" height="5.75" fill="#cacaca"/>
<rect x="188.7" y="228.68" width="4.8" height="5.75" fill="#cacaca"/>
<rect x="194.12" y="228.68" width="4.8" height="5.75" fill="#cacaca"/>
<rect x="199.54" y="228.68" width="4.8" height="5.75" fill="#cacaca"/>
<rect x="204.96" y="228.68" width="4.8" height="5.75" fill="#cacaca"/>
<rect x="210.38" y="228.68" width="4.8" height="5.75" fill="#cacaca"/>
<rect x="215.8" y="228.68" width="4.8" height="5.75" fill="#cacaca"/>
<rect x="221.22" y="228.68" width="4.8" height="5.75" fill="#cacaca"/>
<rect x="226.64" y="228.68" width="4.8" height="5.75" fill="#cacaca"/>
<rect x="232.06" y="228.68" width="4.8" height="5.75" fill="#cacaca"/>
<rect x="237.48" y="228.68" width="4.8" height="5.75" fill="#cacaca"/>
<rect x="242.9" y="228.68" width="4.8" height="5.75" fill="#cacaca"/>
<rect x="248.32" y="228.68" width="4.8" height="5.75" fill="#cacaca"/>
<rect x="253.74" y="228.68" width="4.8" height="5.75" fill="#cacaca"/>
<rect x="259.16" y="228.68" width="4.8" height="5.75" fill="#cacaca"/>
<rect x="80.3" y="235.1" width="4.8" height="5.75" fill="#cacaca"/>
<rect x="85.72" y="235.1" width="4.8" height="5.75" fill="#cacaca"/>
<rect x="91.14" y="235.1" width="4.8" height="5.75" fill="#cacaca"/>
<rect x="96.56" y="235.1" width="4.8" height="5.75" fill="#cacaca"/>
<rect x="101.98" y="235.1" width="4.8" height="5.75" fill="#cacaca"/>
<rect x="107.4" y="235.1" width="4.8" height="5.75" fill="#cacaca"/>
<rect x="112.82" y="235.1" width="4.8" height="5.75" fill="#cacaca"/>
<rect x="118.24" y="235.1" width="4.8" height="5.75" fill="#cacaca"/>
<rect x="123.66" y="235.1" width="4.8" height="5.75" fill="#cacaca"/>
<rect x="129.08" y="235.1" width="4.8" height="5.75" fill="#cacaca"/>
<rect x="134.5" y="235.1" width="4.8" height="5.75" fill="#cacaca"/>
<rect x="139.92" y="235.1" width="4.8" height="5.75" fill="#cacaca"/>
<rect x="145.34" y="235.1" width="4.8" height="5.75" fill="#cacaca"/>
<rect x="150.76" y="235.1" width="4.8" height="5.75" fill="#cacaca"/>
<rect x="156.18" y="235.1" width="4.8" height="5.75" fill="#cacaca"/>
<rect x="161.6" y="235.1" width="4.8" height="5.75" fill="#cacaca"/>
<rect x="167.02" y="235.1" width="4.8" height="5.75" fill="#cacaca"/>
<rect x="172.44" y="235.1" width="4.8" height="5.75" fill="#cacaca"/>
<rect x="177.86" y="235.1" width="4.8" height="5.75" fill="#cacaca"/>
<rect x="183.28" y="235.1" width="4.8" height="5.75" fill="#cacaca"/>
<rect x="188.7" y="235.1" width="4.8" height="5.75" fill="#cacaca"/>
<rect x="194.12" y="235.1" width="4.8" height="5.75" fill="#cacaca"/>
<rect x="199.54" y="235.1" width="4.8" height="5.75" fill="#cacaca"/>
<rect x="204.96" y="235.1" width="4.8" height="5.75" fill="#cacaca"/>
<rect x="210.38" y="235.1" width="4.8" height="5.75" fill="#cacaca"/>
<rect x="215.8" y="235.1" width="4.8" height="5.75" fill="#cacaca"/>
<rect x="221.22" y="235.1" width="4.8" height="5.75" fill="#cacaca"/>
<rect x="226.64" y="235.1" width="4.8" height="5.75" fill="#cacaca"/>
<rect x="232.06" y="235.1" width="4.8" height="5.75" fill="#cacaca"/>
<rect x="237.48" y="235.1" width="4.8" height="5.75" fill="#cacaca"/>
<rect x="242.9" y="235.1" width="4.8" height="5.75" fill="#cacaca"/>
<rect x="248.32" y="235.1" width="4.8" height="5.75" fill="#cacaca"/>
<rect x="253.74" y="235.1" width="4.8" height="5.75" fill="#cacaca"/>
<rect x="259.16" y="235.1" width="4.8" height="5.75" fill="#cacaca"/>
<rect x="80.3" y="10.35" width="4.8" height="5.75" fill="#2b74b9"/>
<rect x="85.72" y="10.35" width="4.8" height="5.75" fill="#2b74b9"/>
<rect x="91.14" y="10.35" width="4.8" height="5.75" fill="#2b74b9"/>
<rect x="96.56" y="10.35" width="4.8" height="5.75" fill="#2b74b9"/>
<rect x="101.98" y="10.35" width="4.8" height="5.75" fill="#2b74b9"/>
<rect x="107.4" y="10.35" width="4.8" height="5.75" fill="#2b74b9"/>
<rect x="112.82" y="10.35" width="4.8" height="5.75" fill="#2b74b9"/>
<rect x="118.24" y="10.35" width="4.8" height="5.75" fill="#2b74b9"/>
<rect x="123.66" y="10.35" width="4.8" height="5.75" fill="#2b74b9"/>
<rect x="161.6" y="10.35" width="4.8" height="5.75" fill="#2b74b9"/>
<rect x="167.02" y="10.35" width="4.8" height="5.75" fill="#2b74b9"/>
<rect x="172.44" y="10.35" width="4.8" height="5.75" fill="#2b74b9"/>
<rect x="177.86" y="10.35" width="4.8" height="5.75" fill="#2b74b9"/>
<rect x="80.3" y="16.68" width="4.8" height="2.99" fill="#2b74b9"/>
<rect x="80.3" y="19.67" width="4.8" height="2.76" fill="#cf1f17"/>
<rect x="129.08" y="16.68" width="4.8" height="5.75" fill="#2b74b9"/>
<rect x="134.5" y="16.68" width="4.8" height="5.75" fill="#2b74b9"/>
<rect x="134.3" y="19" width="5.2" height="1.1" fill="#0f1c3a" fill-opacity="0.85"/>
<rect x="139.92" y="16.68" width="4.8" height="5.75" fill="#2b74b9"/>
<rect x="161.6" y="16.68" width="4.8" height="5.75" fill="#2b74b9"/>
<rect x="183.28" y="16.68" width="4.8" height="5.75" fill="#2b74b9"/>
<rect x="85.72" y="23.01" width="4.8" height="5.75" fill="#cf1f17"/>
<rect x="188.7" y="23.01" width="4.8" height="5.75" fill="#a8439a"/>
<rect x="183.28" y="29.34" width="4.8" height="5.75" fill="#2b74b9"/>
<rect x="194.12" y="29.34" width="4.8" height="5.75" fill="#a8439a"/>
<rect x="167.02" y="35.67" width="4.8" height="5.75" fill="#2b74b9"/>
<rect x="199.54" y="42" width="4.8" height="5.75" fill="#a8439a"/>
<rect x="91.14" y="50.75" width="4.8" height="2.99" fill="#2b74b9"/>
<rect x="91.14" y="53.74" width="4.8" height="2.76" fill="#a8439a"/>
<rect x="96.56" y="50.75" width="4.8" height="2.99" fill="#2b74b9"/>
<rect x="96.56" y="53.74" width="4.8" height="2.76" fill="#a8439a"/>
<rect x="129.08" y="50.75" width="4.8" height="4.02" fill="#a8439a"/>
<rect x="129.08" y="54.77" width="4.8" height="1.73" fill="#2b74b9"/>
<rect x="128.88" y="51.6" width="5.2" height="1.1" fill="#3a0a33" fill-opacity="0.7"/>
<rect x="145.34" y="50.75" width="4.8" height="5.75" fill="#a8439a"/>
<rect x="161.6" y="50.75" width="4.8" height="5.75" fill="#a8439a"/>
<rect x="172.44" y="50.75" width="4.8" height="5.75" fill="#a8439a"/>
<rect x="204.96" y="50.75" width="4.8" height="5.75" fill="#a8439a"/>
<rect x="210.38" y="50.75" width="4.8" height="5.75" fill="#a8439a"/>
<rect x="210.18" y="53.08" width="5.2" height="1.1" fill="#3a0a33" fill-opacity="0.7"/>
<rect x="215.8" y="50.75" width="4.8" height="5.75" fill="#a8439a"/>
<rect x="85.72" y="57.15" width="4.8" height="5.75" fill="#2b74b9"/>
<rect x="91.14" y="57.15" width="4.8" height="5.75" fill="#2b74b9"/>
<rect x="101.98" y="57.15" width="4.8" height="5.75" fill="#a8439a"/>
<rect x="101.78" y="59.48" width="5.2" height="1.1" fill="#3a0a33" fill-opacity="0.7"/>
<rect x="129.08" y="57.15" width="4.8" height="5.75" fill="#2b74b9"/>
<rect x="177.86" y="57.15" width="4.8" height="2.99" fill="#a8439a"/>
<rect x="177.86" y="60.14" width="4.8" height="2.76" fill="#2b74b9"/>
<rect x="80.3" y="63.55" width="4.8" height="5.75" fill="#e0acd5"/>
<rect x="107.4" y="63.55" width="4.8" height="5.75" fill="#e0acd5"/>
<rect x="112.82" y="63.55" width="4.8" height="5.75" fill="#2b74b9"/>
<rect x="139.92" y="63.55" width="4.8" height="5.75" fill="#e0acd5"/>
<rect x="150.76" y="63.55" width="4.8" height="5.75" fill="#e0acd5"/>
<rect x="101.98" y="69.95" width="4.8" height="5.75" fill="#e0acd5"/>
<rect x="172.44" y="69.95" width="4.8" height="5.75" fill="#e0acd5"/>
<rect x="188.7" y="69.95" width="4.8" height="5.75" fill="#2b74b9"/>
<rect x="96.56" y="76.35" width="4.8" height="5.75" fill="#2b74b9"/>
<rect x="118.24" y="76.35" width="4.8" height="5.75" fill="#2b74b9"/>
<rect x="91.14" y="82.75" width="4.8" height="5.75" fill="#cf1f17"/>
<rect x="194.12" y="82.75" width="4.8" height="5.75" fill="#cf1f17"/>
<rect x="96.56" y="89.15" width="4.8" height="5.75" fill="#a8439a"/>
<rect x="221.22" y="89.15" width="4.8" height="5.75" fill="#a8439a"/>
<rect x="85.72" y="95.55" width="4.8" height="5.75" fill="#2b74b9"/>
<rect x="183.28" y="95.55" width="4.8" height="5.75" fill="#2b74b9"/>
<rect x="85.72" y="101.95" width="4.8" height="5.75" fill="#2b74b9"/>
<rect x="150.76" y="101.95" width="4.8" height="5.75" fill="#2b74b9"/>
<rect x="112.82" y="108.35" width="4.8" height="5.75" fill="#e0acd5"/>
<rect x="226.64" y="108.35" width="4.8" height="5.75" fill="#2b74b9"/>
<rect x="129.08" y="114.75" width="4.8" height="5.75" fill="#cf1f17"/>
<rect x="167.02" y="121.15" width="4.8" height="5.75" fill="#2b74b9"/>
<rect x="85.72" y="127.55" width="4.8" height="5.75" fill="#2b74b9"/>
<rect x="183.28" y="133.95" width="4.8" height="5.75" fill="#a8439a"/>
<rect x="112.82" y="140.35" width="4.8" height="5.75" fill="#2b74b9"/>
<rect x="134.5" y="146.75" width="4.8" height="5.75" fill="#cf1f17"/>
<rect x="101.98" y="154.9" width="4.8" height="5.75" fill="#a8439a"/>
<rect x="118.24" y="154.9" width="4.8" height="5.75" fill="#2b74b9"/>
<rect x="134.5" y="154.9" width="4.8" height="5.75" fill="#2b74b9"/>
<rect x="145.34" y="154.9" width="4.8" height="5.75" fill="#cf1f17"/>
<rect x="118.24" y="161.3" width="4.8" height="5.75" fill="#e0acd5"/>
<rect x="188.7" y="161.3" width="4.8" height="5.75" fill="#e0acd5"/>
<rect x="232.06" y="161.3" width="4.8" height="5.75" fill="#e0acd5"/>
<rect x="85.72" y="167.7" width="4.8" height="5.75" fill="#2b74b9"/>
<rect x="91.14" y="167.7" width="4.8" height="5.75" fill="#a8439a"/>
<rect x="118.24" y="174.1" width="4.8" height="5.75" fill="#2b74b9"/>
<rect x="129.08" y="180.5" width="4.8" height="5.75" fill="#2b74b9"/>
<rect x="112.82" y="189.1" width="4.8" height="5.75" fill="#2b74b9"/>
<rect x="118.24" y="189.1" width="4.8" height="5.75" fill="#2b74b9"/>
<rect x="112.82" y="195.3" width="4.8" height="5.75" fill="#2b74b9"/>
<rect x="107.4" y="203" width="4.8" height="5.75" fill="#e0acd5"/>
<rect x="134.5" y="203" width="4.8" height="5.75" fill="#e0acd5"/>
<rect x="204.96" y="203" width="4.8" height="5.75" fill="#e0acd5"/>
<rect x="226.64" y="203" width="4.8" height="5.75" fill="#e0acd5"/>
<rect x="129.08" y="209.42" width="4.8" height="5.75" fill="#2b74b9"/>
<rect x="204.96" y="209.42" width="4.8" height="5.75" fill="#2b74b9"/>
<rect x="85.72" y="215.84" width="4.8" height="5.75" fill="#cf1f17"/>
<rect x="112.82" y="215.84" width="4.8" height="5.75" fill="#2b74b9"/>
<rect x="85.72" y="222.26" width="4.8" height="5.75" fill="#2b74b9"/>
<rect x="118.24" y="222.26" width="4.8" height="5.75" fill="#2b74b9"/>
<rect x="199.54" y="228.68" width="4.8" height="5.75" fill="#2b74b9"/>
<rect x="112.82" y="235.1" width="4.8" height="5.75" fill="#2b74b9"/>
<text x="276.9" y="14.45" font-family="Liberation Sans, sans-serif" font-size="5.1" fill="#000" stroke="#000" stroke-width="0.03">STAT3</text>
<text x="276.9" y="20.78" font-family="Liberation Sans, sans-serif" font-size="5.1" fill="#000" stroke="#000" stroke-width="0.03">JAK1</text>
<text x="276.9" y="27.11" font-family="Liberation Sans, sans-serif" font-size="5.1" fill="#000" stroke="#000" stroke-width="0.03">SOCS3</text>
<text x="276.9" y="33.44" font-family="Liberation Sans, sans-serif" font-size="5.1" fill="#000" stroke="#000" stroke-width="0.03">STAT5B</text>
<text x="276.9" y="39.77" font-family="Liberation Sans, sans-serif" font-size="5.1" fill="#000" stroke="#000" stroke-width="0.03">PTPN1</text>
<text x="276.9" y="46.1" font-family="Liberation Sans, sans-serif" font-size="5.1" fill="#000" stroke="#000" stroke-width="0.03">SOCS1</text>
<text x="276.9" y="54.85" font-family="Liberation Sans, sans-serif" font-size="5.1" fill="#000" stroke="#000" stroke-width="0.03">KMT2C</text>
<text x="276.9" y="61.25" font-family="Liberation Sans, sans-serif" font-size="5.1" fill="#000" stroke="#000" stroke-width="0.03">CHD2</text>
<text x="276.9" y="67.65" font-family="Liberation Sans, sans-serif" font-size="5.1" fill="#000" stroke="#000" stroke-width="0.03">CREBBP</text>
<text x="276.9" y="74.05" font-family="Liberation Sans, sans-serif" font-size="5.1" fill="#000" stroke="#000" stroke-width="0.03">KMT2D</text>
<text x="276.9" y="80.45" font-family="Liberation Sans, sans-serif" font-size="5.1" fill="#000" stroke="#000" stroke-width="0.03">CHD8</text>
<text x="276.9" y="86.85" font-family="Liberation Sans, sans-serif" font-size="5.1" fill="#000" stroke="#000" stroke-width="0.03">DNMT3A</text>
<text x="276.9" y="93.25" font-family="Liberation Sans, sans-serif" font-size="5.1" fill="#000" stroke="#000" stroke-width="0.03">HDAC2</text>
<text x="276.9" y="99.65" font-family="Liberation Sans, sans-serif" font-size="5.1" fill="#000" stroke="#000" stroke-width="0.03">KDM1A</text>
<text x="276.9" y="106.05" font-family="Liberation Sans, sans-serif" font-size="5.1" fill="#000" stroke="#000" stroke-width="0.03">NCOR1</text>
<text x="276.9" y="112.45" font-family="Liberation Sans, sans-serif" font-size="5.1" fill="#000" stroke="#000" stroke-width="0.03">SUZ12</text>
<text x="276.9" y="118.85" font-family="Liberation Sans, sans-serif" font-size="5.1" fill="#000" stroke="#000" stroke-width="0.03">ARID2</text>
<text x="276.9" y="125.25" font-family="Liberation Sans, sans-serif" font-size="5.1" fill="#000" stroke="#000" stroke-width="0.03">ASXL3</text>
<text x="276.9" y="131.65" font-family="Liberation Sans, sans-serif" font-size="5.1" fill="#000" stroke="#000" stroke-width="0.03">HDAC4</text>
<text x="276.9" y="138.05" font-family="Liberation Sans, sans-serif" font-size="5.1" fill="#000" stroke="#000" stroke-width="0.03">HDAC5</text>
<text x="276.9" y="144.45" font-family="Liberation Sans, sans-serif" font-size="5.1" fill="#000" stroke="#000" stroke-width="0.03">HDAC8</text>
<text x="276.9" y="150.85" font-family="Liberation Sans, sans-serif" font-size="5.1" fill="#000" stroke="#000" stroke-width="0.03">TET2</text>
<text x="276.9" y="159" font-family="Liberation Sans, sans-serif" font-size="5.1" fill="#000" stroke="#000" stroke-width="0.03">TP53</text>
<text x="276.9" y="165.4" font-family="Liberation Sans, sans-serif" font-size="5.1" fill="#000" stroke="#000" stroke-width="0.03">TSC22D1</text>
<text x="276.9" y="171.8" font-family="Liberation Sans, sans-serif" font-size="5.1" fill="#000" stroke="#000" stroke-width="0.03">MKI67</text>
<text x="276.9" y="178.2" font-family="Liberation Sans, sans-serif" font-size="5.1" fill="#000" stroke="#000" stroke-width="0.03">ATR</text>
<text x="276.9" y="184.6" font-family="Liberation Sans, sans-serif" font-size="5.1" fill="#000" stroke="#000" stroke-width="0.03">CDKN2A</text>
<text x="276.9" y="193.2" font-family="Liberation Sans, sans-serif" font-size="5.1" fill="#000" stroke="#000" stroke-width="0.03">PTPN11</text>
<text x="276.9" y="199.4" font-family="Liberation Sans, sans-serif" font-size="5.1" fill="#000" stroke="#000" stroke-width="0.03">PIK3CG</text>
<text x="276.9" y="207.1" font-family="Liberation Sans, sans-serif" font-size="5.1" fill="#000" stroke="#000" stroke-width="0.03">EOMES</text>
<text x="276.9" y="213.52" font-family="Liberation Sans, sans-serif" font-size="5.1" fill="#000" stroke="#000" stroke-width="0.03">DOCK1</text>
<text x="276.9" y="219.94" font-family="Liberation Sans, sans-serif" font-size="5.1" fill="#000" stroke="#000" stroke-width="0.03">NCKAP1L</text>
<text x="276.9" y="226.36" font-family="Liberation Sans, sans-serif" font-size="5.1" fill="#000" stroke="#000" stroke-width="0.03">NFATC4</text>
<text x="276.9" y="232.78" font-family="Liberation Sans, sans-serif" font-size="5.1" fill="#000" stroke="#000" stroke-width="0.03">CARD11</text>
<text x="276.9" y="239.2" font-family="Liberation Sans, sans-serif" font-size="5.1" fill="#000" stroke="#000" stroke-width="0.03">SOS1</text>
<rect x="303.9" y="10.75" width="37.44" height="5.05" fill="#000"/>
<rect x="303.9" y="17.08" width="17.28" height="5.05" fill="#000"/>
<rect x="303.9" y="23.41" width="5.76" height="5.05" fill="#000"/>
<rect x="303.9" y="29.74" width="5.76" height="5.05" fill="#000"/>
<rect x="303.9" y="36.07" width="2.88" height="5.05" fill="#000"/>
<rect x="303.9" y="42.4" width="2.88" height="5.05" fill="#000"/>
<rect x="303.9" y="51.15" width="25.92" height="5.05" fill="#000"/>
<rect x="303.9" y="57.55" width="14.4" height="5.05" fill="#000"/>
<rect x="303.9" y="63.95" width="14.4" height="5.05" fill="#000"/>
<rect x="303.9" y="70.35" width="8.64" height="5.05" fill="#000"/>
<rect x="303.9" y="76.75" width="5.76" height="5.05" fill="#000"/>
<rect x="303.9" y="83.15" width="5.76" height="5.05" fill="#000"/>
<rect x="303.9" y="89.55" width="5.76" height="5.05" fill="#000"/>
<rect x="303.9" y="95.95" width="5.76" height="5.05" fill="#000"/>
<rect x="303.9" y="102.35" width="5.76" height="5.05" fill="#000"/>
<rect x="303.9" y="108.75" width="5.76" height="5.05" fill="#000"/>
<rect x="303.9" y="115.15" width="2.88" height="5.05" fill="#000"/>
<rect x="303.9" y="121.55" width="2.88" height="5.05" fill="#000"/>
<rect x="303.9" y="127.95" width="2.88" height="5.05" fill="#000"/>
<rect x="303.9" y="134.35" width="2.88" height="5.05" fill="#000"/>
<rect x="303.9" y="140.75" width="2.88" height="5.05" fill="#000"/>
<rect x="303.9" y="147.15" width="2.88" height="5.05" fill="#000"/>
<rect x="303.9" y="155.3" width="11.52" height="5.05" fill="#000"/>
<rect x="303.9" y="161.7" width="8.64" height="5.05" fill="#000"/>
<rect x="303.9" y="168.1" width="5.76" height="5.05" fill="#000"/>
<rect x="303.9" y="174.5" width="2.88" height="5.05" fill="#000"/>
<rect x="303.9" y="180.9" width="2.88" height="5.05" fill="#000"/>
<rect x="303.9" y="189.5" width="5.76" height="5.05" fill="#000"/>
<rect x="303.9" y="195.7" width="2.88" height="5.05" fill="#000"/>
<rect x="303.9" y="203.4" width="11.52" height="5.05" fill="#000"/>
<rect x="303.9" y="209.82" width="5.76" height="5.05" fill="#000"/>
<rect x="303.9" y="216.24" width="5.76" height="5.05" fill="#000"/>
<rect x="303.9" y="222.66" width="5.76" height="5.05" fill="#000"/>
<rect x="303.9" y="229.08" width="2.88" height="5.05" fill="#000"/>
<rect x="303.9" y="235.5" width="2.88" height="5.05" fill="#000"/>
<rect x="303.2" y="7" width="1.3" height="237.8" fill="#111"/>
<rect x="303.2" y="241.4" width="40" height="1.4" fill="#111"/>
<rect x="317.75" y="241.4" width="1.1" height="3.4" fill="#111"/>
<rect x="332.15" y="241.4" width="1.1" height="3.4" fill="#111"/>
<text x="303.9" y="253.1" font-family="Liberation Sans, sans-serif" font-size="5.4" text-anchor="middle" fill="#111" stroke="#111" stroke-width="0.06">0</text>
<text x="318.3" y="253.1" font-family="Liberation Sans, sans-serif" font-size="5.4" text-anchor="middle" fill="#111" stroke="#111" stroke-width="0.06">5</text>
<text x="332.7" y="253.1" font-family="Liberation Sans, sans-serif" font-size="5.4" text-anchor="middle" fill="#111" stroke="#111" stroke-width="0.06">10</text>
<rect x="80.2" y="243.1" width="81.05" height="7.2" fill="#da7461"/>
<rect x="161.25" y="243.1" width="102.65" height="7.2" fill="#7fb2d8"/>
<rect x="80.2" y="251.6" width="5.17" height="7.2" fill="#000000"/>
<rect x="85.37" y="251.6" width="5.42" height="7.2" fill="#454545"/>
<rect x="90.79" y="251.6" width="10.84" height="7.2" fill="#b4b4b4"/>
<rect x="101.63" y="251.6" width="5.42" height="7.2" fill="#000000"/>
<rect x="107.05" y="251.6" width="5.42" height="7.2" fill="#b4b4b4"/>
<rect x="112.47" y="251.6" width="5.42" height="7.2" fill="#000000"/>
<rect x="117.89" y="251.6" width="16.26" height="7.2" fill="#454545"/>
<rect x="134.15" y="251.6" width="5.42" height="7.2" fill="#b4b4b4"/>
<rect x="139.57" y="251.6" width="10.84" height="7.2" fill="#000000"/>
<rect x="150.41" y="251.6" width="5.42" height="7.2" fill="#ffffff"/>
<rect x="155.83" y="251.6" width="5.42" height="7.2" fill="#000000"/>
<rect x="162.25" y="251.6" width="101.65" height="7.2" fill="#efefef"/>
<rect x="80.2" y="259.8" width="21.43" height="7.3" fill="#1f6fb4"/>
<rect x="101.63" y="259.8" width="5.42" height="7.3" fill="#a0c879"/>
<rect x="107.05" y="259.8" width="5.42" height="7.3" fill="#1f6fb4"/>
<rect x="112.47" y="259.8" width="10.84" height="7.3" fill="#a7cfea"/>
<rect x="123.31" y="259.8" width="5.42" height="7.3" fill="#a0c879"/>
<rect x="128.73" y="259.8" width="10.84" height="7.3" fill="#1f6fb4"/>
<rect x="139.57" y="259.8" width="16.26" height="7.3" fill="#a0c879"/>
<rect x="155.83" y="259.8" width="5.42" height="7.3" fill="#a7cfea"/>
<rect x="161.25" y="259.8" width="5.42" height="7.3" fill="#a0c879"/>
<rect x="166.67" y="259.8" width="5.42" height="7.3" fill="#a7cfea"/>
<rect x="172.09" y="259.8" width="5.42" height="7.3" fill="#1f6fb4"/>
<rect x="177.51" y="259.8" width="5.42" height="7.3" fill="#a0c879"/>
<rect x="182.93" y="259.8" width="10.84" height="7.3" fill="#a7cfea"/>
<rect x="193.77" y="259.8" width="5.42" height="7.3" fill="#a0c879"/>
<rect x="199.19" y="259.8" width="16.26" height="7.3" fill="#1f6fb4"/>
<rect x="215.45" y="259.8" width="5.42" height="7.3" fill="#a0c879"/>
<rect x="220.87" y="259.8" width="10.84" height="7.3" fill="#a7cfea"/>
<rect x="231.71" y="259.8" width="5.42" height="7.3" fill="#1f6fb4"/>
<rect x="237.13" y="259.8" width="5.42" height="7.3" fill="#a0c879"/>
<rect x="242.55" y="259.8" width="10.84" height="7.3" fill="#a7cfea"/>
<rect x="253.39" y="259.8" width="10.51" height="7.3" fill="#a0c879"/>
<text transform="translate(84.4,270.1) rotate(-90)" font-family="Liberation Sans, sans-serif" font-size="5.2" text-anchor="end" fill="#111" stroke="#111" stroke-width="0.06">BIALCL_19</text>
<text transform="translate(89.82,270.1) rotate(-90)" font-family="Liberation Sans, sans-serif" font-size="5.2" text-anchor="end" fill="#111" stroke="#111" stroke-width="0.06">BIALCL_34</text>
<text transform="translate(95.24,270.1) rotate(-90)" font-family="Liberation Sans, sans-serif" font-size="5.2" text-anchor="end" fill="#111" stroke="#111" stroke-width="0.06">BIALCL_BEL2</text>
<text transform="translate(100.66,270.1) rotate(-90)" font-family="Liberation Sans, sans-serif" font-size="5.2" text-anchor="end" fill="#111" stroke="#111" stroke-width="0.06">BIALCL_28</text>
<text transform="translate(106.08,270.1) rotate(-90)" font-family="Liberation Sans, sans-serif" font-size="5.2" text-anchor="end" fill="#111" stroke="#111" stroke-width="0.06">BIALCL_10</text>
<text transform="translate(111.5,270.1) rotate(-90)" font-family="Liberation Sans, sans-serif" font-size="5.2" text-anchor="end" fill="#111" stroke="#111" stroke-width="0.06">BIALCL_29</text>
<text transform="translate(116.92,270.1) rotate(-90)" font-family="Liberation Sans, sans-serif" font-size="5.2" text-anchor="end" fill="#111" stroke="#111" stroke-width="0.06">BIALCL_13</text>
<text transform="translate(122.34,270.1) rotate(-90)" font-family="Liberation Sans, sans-serif" font-size="5.2" text-anchor="end" fill="#111" stroke="#111" stroke-width="0.06">BIALCL_37</text>
<text transform="translate(127.76,270.1) rotate(-90)" font-family="Liberation Sans, sans-serif" font-size="5.2" text-anchor="end" fill="#111" stroke="#111" stroke-width="0.06">BIALCL_14</text>
<text transform="translate(133.18,270.1) rotate(-90)" font-family="Liberation Sans, sans-serif" font-size="5.2" text-anchor="end" fill="#111" stroke="#111" stroke-width="0.06">BIALCL_33</text>
<text transform="translate(138.6,270.1) rotate(-90)" font-family="Liberation Sans, sans-serif" font-size="5.2" text-anchor="end" fill="#111" stroke="#111" stroke-width="0.06">BIALCL_30</text>
<text transform="translate(144.02,270.1) rotate(-90)" font-family="Liberation Sans, sans-serif" font-size="5.2" text-anchor="end" fill="#111" stroke="#111" stroke-width="0.06">BIALCL_48</text>
<text transform="translate(149.44,270.1) rotate(-90)" font-family="Liberation Sans, sans-serif" font-size="5.2" text-anchor="end" fill="#111" stroke="#111" stroke-width="0.06">BIALCL_11</text>
<text transform="translate(154.86,270.1) rotate(-90)" font-family="Liberation Sans, sans-serif" font-size="5.2" text-anchor="end" fill="#111" stroke="#111" stroke-width="0.06">BIALCL_35</text>
<text transform="translate(160.28,270.1) rotate(-90)" font-family="Liberation Sans, sans-serif" font-size="5.2" text-anchor="end" fill="#111" stroke="#111" stroke-width="0.06">BIALCL_17</text>
<text transform="translate(165.7,270.1) rotate(-90)" font-family="Liberation Sans, sans-serif" font-size="5.2" text-anchor="end" fill="#111" stroke="#111" stroke-width="0.06">BIALCL_36</text>
<text transform="translate(171.12,270.1) rotate(-90)" font-family="Liberation Sans, sans-serif" font-size="5.2" text-anchor="end" fill="#111" stroke="#111" stroke-width="0.06">BIALCL_32</text>
<text transform="translate(176.54,270.1) rotate(-90)" font-family="Liberation Sans, sans-serif" font-size="5.2" text-anchor="end" fill="#111" stroke="#111" stroke-width="0.06">BIALCL_21</text>
<text transform="translate(181.96,270.1) rotate(-90)" font-family="Liberation Sans, sans-serif" font-size="5.2" text-anchor="end" fill="#111" stroke="#111" stroke-width="0.06">BIALCL_15</text>
<text transform="translate(187.38,270.1) rotate(-90)" font-family="Liberation Sans, sans-serif" font-size="5.2" text-anchor="end" fill="#111" stroke="#111" stroke-width="0.06">BIALCL_06</text>
<text transform="translate(192.8,270.1) rotate(-90)" font-family="Liberation Sans, sans-serif" font-size="5.2" text-anchor="end" fill="#111" stroke="#111" stroke-width="0.06">BIALCL_02</text>
<text transform="translate(198.22,270.1) rotate(-90)" font-family="Liberation Sans, sans-serif" font-size="5.2" text-anchor="end" fill="#111" stroke="#111" stroke-width="0.06">BIALCL_18</text>
<text transform="translate(203.64,270.1) rotate(-90)" font-family="Liberation Sans, sans-serif" font-size="5.2" text-anchor="end" fill="#111" stroke="#111" stroke-width="0.06">BIALCL_07</text>
<text transform="translate(209.06,270.1) rotate(-90)" font-family="Liberation Sans, sans-serif" font-size="5.2" text-anchor="end" fill="#111" stroke="#111" stroke-width="0.06">BIALCL_42</text>
<text transform="translate(214.48,270.1) rotate(-90)" font-family="Liberation Sans, sans-serif" font-size="5.2" text-anchor="end" fill="#111" stroke="#111" stroke-width="0.06">BIALCL_24</text>
<text transform="translate(219.9,270.1) rotate(-90)" font-family="Liberation Sans, sans-serif" font-size="5.2" text-anchor="end" fill="#111" stroke="#111" stroke-width="0.06">BIALCL_31</text>
<text transform="translate(225.32,270.1) rotate(-90)" font-family="Liberation Sans, sans-serif" font-size="5.2" text-anchor="end" fill="#111" stroke="#111" stroke-width="0.06">BIALCL_22</text>
<text transform="translate(230.74,270.1) rotate(-90)" font-family="Liberation Sans, sans-serif" font-size="5.2" text-anchor="end" fill="#111" stroke="#111" stroke-width="0.06">BIALCL_BEL1</text>
<text transform="translate(236.16,270.1) rotate(-90)" font-family="Liberation Sans, sans-serif" font-size="5.2" text-anchor="end" fill="#111" stroke="#111" stroke-width="0.06">BIALCL_08</text>
<text transform="translate(241.58,270.1) rotate(-90)" font-family="Liberation Sans, sans-serif" font-size="5.2" text-anchor="end" fill="#111" stroke="#111" stroke-width="0.06">BIALCL_38</text>
<text transform="translate(247,270.1) rotate(-90)" font-family="Liberation Sans, sans-serif" font-size="5.2" text-anchor="end" fill="#111" stroke="#111" stroke-width="0.06">BIALCL_05</text>
<text transform="translate(252.42,270.1) rotate(-90)" font-family="Liberation Sans, sans-serif" font-size="5.2" text-anchor="end" fill="#111" stroke="#111" stroke-width="0.06">BIALCL_16</text>
<text transform="translate(257.84,270.1) rotate(-90)" font-family="Liberation Sans, sans-serif" font-size="5.2" text-anchor="end" fill="#111" stroke="#111" stroke-width="0.06">BIALCL_26</text>
<text transform="translate(263.26,270.1) rotate(-90)" font-family="Liberation Sans, sans-serif" font-size="5.2" text-anchor="end" fill="#111" stroke="#111" stroke-width="0.06">BIALCL_50</text>
<text x="7" y="115.4" font-family="Liberation Sans, sans-serif" font-weight="bold" font-size="5.6" fill="#000" stroke="#000" stroke-width="0.15">Alterations</text>
<rect x="7" y="118" width="6" height="5.7" fill="#cf1f17"/>
<text x="15.8" y="122.35" font-family="Liberation Sans, sans-serif" font-size="5.5" fill="#111" stroke="#111" stroke-width="0.04">Nonsense</text>
<rect x="7" y="124.2" width="6" height="5.7" fill="#2b74b9"/>
<text x="15.8" y="128.55" font-family="Liberation Sans, sans-serif" font-size="5.5" fill="#111" stroke="#111" stroke-width="0.04">Missense</text>
<rect x="7" y="130.4" width="6" height="5.7" fill="#a8439a"/>
<text x="15.8" y="134.75" font-family="Liberation Sans, sans-serif" font-size="5.5" fill="#111" stroke="#111" stroke-width="0.04">FrameshiftIndel</text>
<rect x="7" y="136.6" width="6" height="5.7" fill="#e0acd5"/>
<text x="15.8" y="140.95" font-family="Liberation Sans, sans-serif" font-size="5.5" fill="#111" stroke="#111" stroke-width="0.04">InframeIndel</text>
<text x="7" y="150.2" font-family="Liberation Sans, sans-serif" font-weight="bold" font-size="5.6" fill="#000" stroke="#000" stroke-width="0.15">Pathways</text>
<rect x="7" y="152.1" width="6" height="5.7" fill="#8dc7b8"/>
<text x="15.8" y="156.45" font-family="Liberation Sans, sans-serif" font-size="5.5" fill="#111" stroke="#111" stroke-width="0.04">JAK/STAT Signalling</text>
<rect x="7" y="158.25" width="6" height="5.7" fill="#7dafd9"/>
<text x="15.8" y="162.6" font-family="Liberation Sans, sans-serif" font-size="5.5" fill="#111" stroke="#111" stroke-width="0.04">Epigenetic Modifiers</text>
<rect x="7" y="164.4" width="6" height="5.7" fill="#b8b4dc"/>
<text x="15.8" y="168.75" font-family="Liberation Sans, sans-serif" font-size="5.5" fill="#111" stroke="#111" stroke-width="0.04">Cell Cycle / Apoptosis</text>
<rect x="7" y="170.55" width="6" height="5.7" fill="#e5a456"/>
<text x="15.8" y="174.9" font-family="Liberation Sans, sans-serif" font-size="5.5" fill="#111" stroke="#111" stroke-width="0.04">PI3K/AKT/mTOR</text>
<rect x="7" y="176.7" width="6" height="5.7" fill="#9fc766"/>
<text x="15.8" y="181.05" font-family="Liberation Sans, sans-serif" font-size="5.5" fill="#111" stroke="#111" stroke-width="0.04">Others</text>
<text x="7" y="217.8" font-family="Liberation Sans, sans-serif" font-weight="bold" font-size="5.6" fill="#000" stroke="#000" stroke-width="0.15">Sample Type</text>
<rect x="7" y="220.6" width="6" height="5.7" fill="#da7461"/>
<text x="15.8" y="224.95" font-family="Liberation Sans, sans-serif" font-size="5.5" fill="#111" stroke="#111" stroke-width="0.04">tumor-type</text>
<rect x="7" y="226.6" width="6" height="5.7" fill="#7fb2d8"/>
<text x="15.8" y="230.95" font-family="Liberation Sans, sans-serif" font-size="5.5" fill="#111" stroke="#111" stroke-width="0.04">in situ</text>
<text x="7" y="239.6" font-family="Liberation Sans, sans-serif" font-weight="bold" font-size="5.6" fill="#000" stroke="#000" stroke-width="0.15">TNM</text>
<rect x="7" y="242" width="6" height="5.7" fill="#ececec"/>
<text x="15.8" y="246.35" font-family="Liberation Sans, sans-serif" font-size="5.5" fill="#111" stroke="#111" stroke-width="0.04">T1</text>
<rect x="7" y="248.2" width="6" height="5.7" fill="#b4b4b4"/>
<text x="15.8" y="252.55" font-family="Liberation Sans, sans-serif" font-size="5.5" fill="#111" stroke="#111" stroke-width="0.04">T2</text>
<rect x="7" y="254.4" width="6" height="5.7" fill="#454545"/>
<text x="15.8" y="258.75" font-family="Liberation Sans, sans-serif" font-size="5.5" fill="#111" stroke="#111" stroke-width="0.04">T3</text>
<rect x="7" y="260.6" width="6" height="5.7" fill="#000"/>
<text x="15.8" y="264.95" font-family="Liberation Sans, sans-serif" font-size="5.5" fill="#111" stroke="#111" stroke-width="0.04">T4</text>
<text x="7" y="273.3" font-family="Liberation Sans, sans-serif" font-weight="bold" font-size="5.6" fill="#000" stroke="#000" stroke-width="0.15">Technology</text>
<rect x="7" y="276.6" width="6" height="5.7" fill="#a7cfea"/>
<text x="15.8" y="280.95" font-family="Liberation Sans, sans-serif" font-size="5.5" fill="#111" stroke="#111" stroke-width="0.04">WES</text>
<rect x="7" y="282.8" width="6" height="5.7" fill="#1f6fb4"/>
<text x="15.8" y="287.15" font-family="Liberation Sans, sans-serif" font-size="5.5" fill="#111" stroke="#111" stroke-width="0.04">WES-Targeted</text>
<rect x="7" y="289" width="6" height="5.7" fill="#a0c879"/>
<text x="15.8" y="293.35" font-family="Liberation Sans, sans-serif" font-size="5.5" fill="#111" stroke="#111" stroke-width="0.04">Targeted</text>
<text transform="translate(359.4,16.75) scale(0.92,1)" font-family="Liberation Sans, sans-serif" font-weight="bold" font-size="11" fill="#000">B</text>
<circle cx="436.8" cy="139.0" r="61.95" fill="none" stroke="#d0d0d0" stroke-width="0.6"/>
<circle cx="436.8" cy="139.0" r="51.05" fill="none" stroke="#d0d0d0" stroke-width="0.6"/>
<circle cx="436.8" cy="139.0" r="40.15" fill="none" stroke="#d0d0d0" stroke-width="0.6"/>
<circle cx="436.8" cy="139.0" r="29.25" fill="none" stroke="#d0d0d0" stroke-width="0.6"/>
<circle cx="436.8" cy="139.0" r="18.35" fill="none" stroke="#d0d0d0" stroke-width="0.6"/>
<path d="M436.8,72.4 A66.6,66.6 0 1 1 370.33,143.18 L379.61,142.6 A57.3,57.3 0 1 0 436.8,81.7 Z" fill="#7fb0d8"/>
<line x1="433.6" y1="77.05" x2="436.8" y2="77.05" stroke="#bbb" stroke-width="0.5"/>
<text transform="translate(433.2,79.15) scale(0.93,1)" font-family="Liberation Sans, sans-serif" font-size="5.95" text-anchor="end" fill="#1a1a1a">Epigenetic Modifiers - 74 %</text>
<path d="M436.8,83.3 A55.7,55.7 0 1 1 406.95,186.03 L411.94,178.18 A46.4,46.4 0 1 0 436.8,92.6 Z" fill="#8cc6b8"/>
<line x1="433.6" y1="87.95" x2="436.8" y2="87.95" stroke="#bbb" stroke-width="0.5"/>
<text transform="translate(433.2,90.05) scale(0.93,1)" font-family="Liberation Sans, sans-serif" font-size="5.95" text-anchor="end" fill="#1a1a1a">JAK/STAT Signalling - 59 %</text>
<path d="M436.8,94.2 A44.8,44.8 0 0 1 481.51,141.81 L472.23,141.23 A35.5,35.5 0 0 0 436.8,103.5 Z" fill="#bab5dd"/>
<line x1="433.6" y1="98.85" x2="436.8" y2="98.85" stroke="#bbb" stroke-width="0.5"/>
<text transform="translate(433.2,100.95) scale(0.93,1)" font-family="Liberation Sans, sans-serif" font-size="5.95" text-anchor="end" fill="#1a1a1a">Cell Cycle / Apoptosis - 26 %</text>
<path d="M436.8,105.1 A33.9,33.9 0 0 1 470.63,141.13 L461.35,140.54 A24.6,24.6 0 0 0 436.8,114.4 Z" fill="#a2c86a"/>
<line x1="433.6" y1="109.75" x2="436.8" y2="109.75" stroke="#bbb" stroke-width="0.5"/>
<text transform="translate(433.2,111.85) scale(0.93,1)" font-family="Liberation Sans, sans-serif" font-size="5.95" text-anchor="end" fill="#1a1a1a">Others - 26 %</text>
<path d="M436.8,116 A23,23 0 0 1 445.27,117.62 L441.84,126.26 A13.7,13.7 0 0 0 436.8,125.3 Z" fill="#e6a150"/>
<line x1="433.6" y1="120.65" x2="436.8" y2="120.65" stroke="#bbb" stroke-width="0.5"/>
<text transform="translate(433.2,122.75) scale(0.93,1)" font-family="Liberation Sans, sans-serif" font-size="5.95" text-anchor="end" fill="#1a1a1a">PI3K/AKT/mTOR - 6 %</text>
<path d="M436.8,72.1 A66.9,66.9 0 1 1 369.9,139" fill="none" stroke="#777" stroke-width="0.55"/>
<line x1="436.8" y1="72.1" x2="436.8" y2="69.3" stroke="#555" stroke-width="0.55"/>
<line x1="441" y1="72.23" x2="441.09" y2="70.83" stroke="#555" stroke-width="0.55"/>
<line x1="445.18" y1="72.63" x2="445.36" y2="71.24" stroke="#555" stroke-width="0.55"/>
<line x1="449.34" y1="73.28" x2="449.6" y2="71.91" stroke="#555" stroke-width="0.55"/>
<line x1="453.44" y1="74.2" x2="453.79" y2="72.85" stroke="#555" stroke-width="0.55"/>
<line x1="457.47" y1="75.37" x2="458.34" y2="72.71" stroke="#555" stroke-width="0.55"/>
<line x1="461.43" y1="76.8" x2="461.94" y2="75.5" stroke="#555" stroke-width="0.55"/>
<line x1="465.28" y1="78.47" x2="465.88" y2="77.2" stroke="#555" stroke-width="0.55"/>
<line x1="469.03" y1="80.38" x2="469.7" y2="79.15" stroke="#555" stroke-width="0.55"/>
<line x1="472.65" y1="82.51" x2="473.4" y2="81.33" stroke="#555" stroke-width="0.55"/>
<line x1="476.12" y1="84.88" x2="477.77" y2="82.61" stroke="#555" stroke-width="0.55"/>
<line x1="479.44" y1="87.45" x2="480.34" y2="86.37" stroke="#555" stroke-width="0.55"/>
<line x1="482.6" y1="90.23" x2="483.55" y2="89.21" stroke="#555" stroke-width="0.55"/>
<line x1="485.57" y1="93.2" x2="486.59" y2="92.25" stroke="#555" stroke-width="0.55"/>
<line x1="488.35" y1="96.36" x2="489.43" y2="95.46" stroke="#555" stroke-width="0.55"/>
<line x1="490.92" y1="99.68" x2="493.19" y2="98.03" stroke="#555" stroke-width="0.55"/>
<line x1="493.29" y1="103.15" x2="494.47" y2="102.4" stroke="#555" stroke-width="0.55"/>
<line x1="495.42" y1="106.77" x2="496.65" y2="106.1" stroke="#555" stroke-width="0.55"/>
<line x1="497.33" y1="110.52" x2="498.6" y2="109.92" stroke="#555" stroke-width="0.55"/>
<line x1="499" y1="114.37" x2="500.3" y2="113.86" stroke="#555" stroke-width="0.55"/>
<line x1="500.43" y1="118.33" x2="503.09" y2="117.46" stroke="#555" stroke-width="0.55"/>
<line x1="501.6" y1="122.36" x2="502.95" y2="122.01" stroke="#555" stroke-width="0.55"/>
<line x1="502.52" y1="126.46" x2="503.89" y2="126.2" stroke="#555" stroke-width="0.55"/>
<line x1="503.17" y1="130.62" x2="504.56" y2="130.44" stroke="#555" stroke-width="0.55"/>
<line x1="503.57" y1="134.8" x2="504.97" y2="134.71" stroke="#555" stroke-width="0.55"/>
<line x1="503.7" y1="139" x2="506.5" y2="139" stroke="#555" stroke-width="0.55"/>
<line x1="503.57" y1="143.2" x2="504.97" y2="143.29" stroke="#555" stroke-width="0.55"/>
<line x1="503.17" y1="147.38" x2="504.56" y2="147.56" stroke="#555" stroke-width="0.55"/>
<line x1="502.52" y1="151.54" x2="503.89" y2="151.8" stroke="#555" stroke-width="0.55"/>
<line x1="501.6" y1="155.64" x2="502.95" y2="155.99" stroke="#555" stroke-width="0.55"/>
<line x1="500.43" y1="159.67" x2="503.09" y2="160.54" stroke="#555" stroke-width="0.55"/>
<line x1="499" y1="163.63" x2="500.3" y2="164.14" stroke="#555" stroke-width="0.55"/>
<line x1="497.33" y1="167.48" x2="498.6" y2="168.08" stroke="#555" stroke-width="0.55"/>
<line x1="495.42" y1="171.23" x2="496.65" y2="171.9" stroke="#555" stroke-width="0.55"/>
<line x1="493.29" y1="174.85" x2="494.47" y2="175.6" stroke="#555" stroke-width="0.55"/>
<line x1="490.92" y1="178.32" x2="493.19" y2="179.97" stroke="#555" stroke-width="0.55"/>
<line x1="488.35" y1="181.64" x2="489.43" y2="182.54" stroke="#555" stroke-width="0.55"/>
<line x1="485.57" y1="184.8" x2="486.59" y2="185.75" stroke="#555" stroke-width="0.55"/>
<line x1="482.6" y1="187.77" x2="483.55" y2="188.79" stroke="#555" stroke-width="0.55"/>
<line x1="479.44" y1="190.55" x2="480.34" y2="191.63" stroke="#555" stroke-width="0.55"/>
<line x1="476.12" y1="193.12" x2="477.77" y2="195.39" stroke="#555" stroke-width="0.55"/>
<line x1="472.65" y1="195.49" x2="473.4" y2="196.67" stroke="#555" stroke-width="0.55"/>
<line x1="469.03" y1="197.62" x2="469.7" y2="198.85" stroke="#555" stroke-width="0.55"/>
<line x1="465.28" y1="199.53" x2="465.88" y2="200.8" stroke="#555" stroke-width="0.55"/>
<line x1="461.43" y1="201.2" x2="461.94" y2="202.5" stroke="#555" stroke-width="0.55"/>
<line x1="457.47" y1="202.63" x2="458.34" y2="205.29" stroke="#555" stroke-width="0.55"/>
<line x1="453.44" y1="203.8" x2="453.79" y2="205.15" stroke="#555" stroke-width="0.55"/>
<line x1="449.34" y1="204.72" x2="449.6" y2="206.09" stroke="#555" stroke-width="0.55"/>
<line x1="445.18" y1="205.37" x2="445.36" y2="206.76" stroke="#555" stroke-width="0.55"/>
<line x1="441" y1="205.77" x2="441.09" y2="207.17" stroke="#555" stroke-width="0.55"/>
<line x1="436.8" y1="205.9" x2="436.8" y2="208.7" stroke="#555" stroke-width="0.55"/>
<line x1="432.6" y1="205.77" x2="432.51" y2="207.17" stroke="#555" stroke-width="0.55"/>
<line x1="428.42" y1="205.37" x2="428.24" y2="206.76" stroke="#555" stroke-width="0.55"/>
<line x1="424.26" y1="204.72" x2="424" y2="206.09" stroke="#555" stroke-width="0.55"/>
<line x1="420.16" y1="203.8" x2="419.81" y2="205.15" stroke="#555" stroke-width="0.55"/>
<line x1="416.13" y1="202.63" x2="415.26" y2="205.29" stroke="#555" stroke-width="0.55"/>
<line x1="412.17" y1="201.2" x2="411.66" y2="202.5" stroke="#555" stroke-width="0.55"/>
<line x1="408.32" y1="199.53" x2="407.72" y2="200.8" stroke="#555" stroke-width="0.55"/>
<line x1="404.57" y1="197.62" x2="403.9" y2="198.85" stroke="#555" stroke-width="0.55"/>
<line x1="400.95" y1="195.49" x2="400.2" y2="196.67" stroke="#555" stroke-width="0.55"/>
<line x1="397.48" y1="193.12" x2="395.83" y2="195.39" stroke="#555" stroke-width="0.55"/>
<line x1="394.16" y1="190.55" x2="393.26" y2="191.63" stroke="#555" stroke-width="0.55"/>
<line x1="391" y1="187.77" x2="390.05" y2="188.79" stroke="#555" stroke-width="0.55"/>
<line x1="388.03" y1="184.8" x2="387.01" y2="185.75" stroke="#555" stroke-width="0.55"/>
<line x1="385.25" y1="181.64" x2="384.17" y2="182.54" stroke="#555" stroke-width="0.55"/>
<line x1="382.68" y1="178.32" x2="380.41" y2="179.97" stroke="#555" stroke-width="0.55"/>
<line x1="380.31" y1="174.85" x2="379.13" y2="175.6" stroke="#555" stroke-width="0.55"/>
<line x1="378.18" y1="171.23" x2="376.95" y2="171.9" stroke="#555" stroke-width="0.55"/>
<line x1="376.27" y1="167.48" x2="375" y2="168.08" stroke="#555" stroke-width="0.55"/>
<line x1="374.6" y1="163.63" x2="373.3" y2="164.14" stroke="#555" stroke-width="0.55"/>
<line x1="373.17" y1="159.67" x2="370.51" y2="160.54" stroke="#555" stroke-width="0.55"/>
<line x1="372" y1="155.64" x2="370.65" y2="155.99" stroke="#555" stroke-width="0.55"/>
<line x1="371.08" y1="151.54" x2="369.71" y2="151.8" stroke="#555" stroke-width="0.55"/>
<line x1="370.43" y1="147.38" x2="369.04" y2="147.56" stroke="#555" stroke-width="0.55"/>
<line x1="370.03" y1="143.2" x2="368.63" y2="143.29" stroke="#555" stroke-width="0.55"/>
<line x1="369.9" y1="139" x2="367.1" y2="139" stroke="#555" stroke-width="0.55"/>
<text transform="translate(436.8,65.2) rotate(0)" y="0.7" font-family="Liberation Sans, sans-serif" font-size="5.6" text-anchor="middle" dominant-baseline="central" fill="#222" stroke="#222" stroke-width="0.04">0%</text>
<text transform="translate(459.61,68.81) rotate(18)" y="0.7" font-family="Liberation Sans, sans-serif" font-size="5.6" text-anchor="middle" dominant-baseline="central" fill="#222" stroke="#222" stroke-width="0.04">5%</text>
<text transform="translate(480.18,79.29) rotate(36)" y="0.7" font-family="Liberation Sans, sans-serif" font-size="5.6" text-anchor="middle" dominant-baseline="central" fill="#222" stroke="#222" stroke-width="0.04">10%</text>
<text transform="translate(496.51,95.62) rotate(54)" y="0.7" font-family="Liberation Sans, sans-serif" font-size="5.6" text-anchor="middle" dominant-baseline="central" fill="#222" stroke="#222" stroke-width="0.04">15%</text>
<text transform="translate(506.99,116.19) rotate(72)" y="0.7" font-family="Liberation Sans, sans-serif" font-size="5.6" text-anchor="middle" dominant-baseline="central" fill="#222" stroke="#222" stroke-width="0.04">20%</text>
<text transform="translate(510.6,139) rotate(90)" y="0.7" font-family="Liberation Sans, sans-serif" font-size="5.6" text-anchor="middle" dominant-baseline="central" fill="#222" stroke="#222" stroke-width="0.04">25%</text>
<text transform="translate(506.99,161.81) rotate(-72)" y="0.7" font-family="Liberation Sans, sans-serif" font-size="5.6" text-anchor="middle" dominant-baseline="central" fill="#222" stroke="#222" stroke-width="0.04">30%</text>
<text transform="translate(496.51,182.38) rotate(-54)" y="0.7" font-family="Liberation Sans, sans-serif" font-size="5.6" text-anchor="middle" dominant-baseline="central" fill="#222" stroke="#222" stroke-width="0.04">35%</text>
<text transform="translate(480.18,198.71) rotate(-36)" y="0.7" font-family="Liberation Sans, sans-serif" font-size="5.6" text-anchor="middle" dominant-baseline="central" fill="#222" stroke="#222" stroke-width="0.04">40%</text>
<text transform="translate(459.61,209.19) rotate(-18)" y="0.7" font-family="Liberation Sans, sans-serif" font-size="5.6" text-anchor="middle" dominant-baseline="central" fill="#222" stroke="#222" stroke-width="0.04">45%</text>
<text transform="translate(436.8,212.8) rotate(0)" y="0.7" font-family="Liberation Sans, sans-serif" font-size="5.6" text-anchor="middle" dominant-baseline="central" fill="#222" stroke="#222" stroke-width="0.04">50%</text>
<text transform="translate(413.99,209.19) rotate(18)" y="0.7" font-family="Liberation Sans, sans-serif" font-size="5.6" text-anchor="middle" dominant-baseline="central" fill="#222" stroke="#222" stroke-width="0.04">55%</text>
<text transform="translate(393.42,198.71) rotate(36)" y="0.7" font-family="Liberation Sans, sans-serif" font-size="5.6" text-anchor="middle" dominant-baseline="central" fill="#222" stroke="#222" stroke-width="0.04">60%</text>
<text transform="translate(377.09,182.38) rotate(54)" y="0.7" font-family="Liberation Sans, sans-serif" font-size="5.6" text-anchor="middle" dominant-baseline="central" fill="#222" stroke="#222" stroke-width="0.04">65%</text>
<text transform="translate(366.61,161.81) rotate(72)" y="0.7" font-family="Liberation Sans, sans-serif" font-size="5.6" text-anchor="middle" dominant-baseline="central" fill="#222" stroke="#222" stroke-width="0.04">70%</text>
<text transform="translate(363,139) rotate(90)" y="0.7" font-family="Liberation Sans, sans-serif" font-size="5.6" text-anchor="middle" dominant-baseline="central" fill="#222" stroke="#222" stroke-width="0.04">75%</text>
<rect x="0" y="0" width="520" height="1" fill="#000"/>
<rect x="0" y="0" width="1" height="311" fill="#000"/>
<rect x="518.6" y="0" width="1.4" height="311" fill="#000"/>
<rect x="0" y="309.8" width="520" height="1.2" fill="#000"/>
</svg></div></body></html>
